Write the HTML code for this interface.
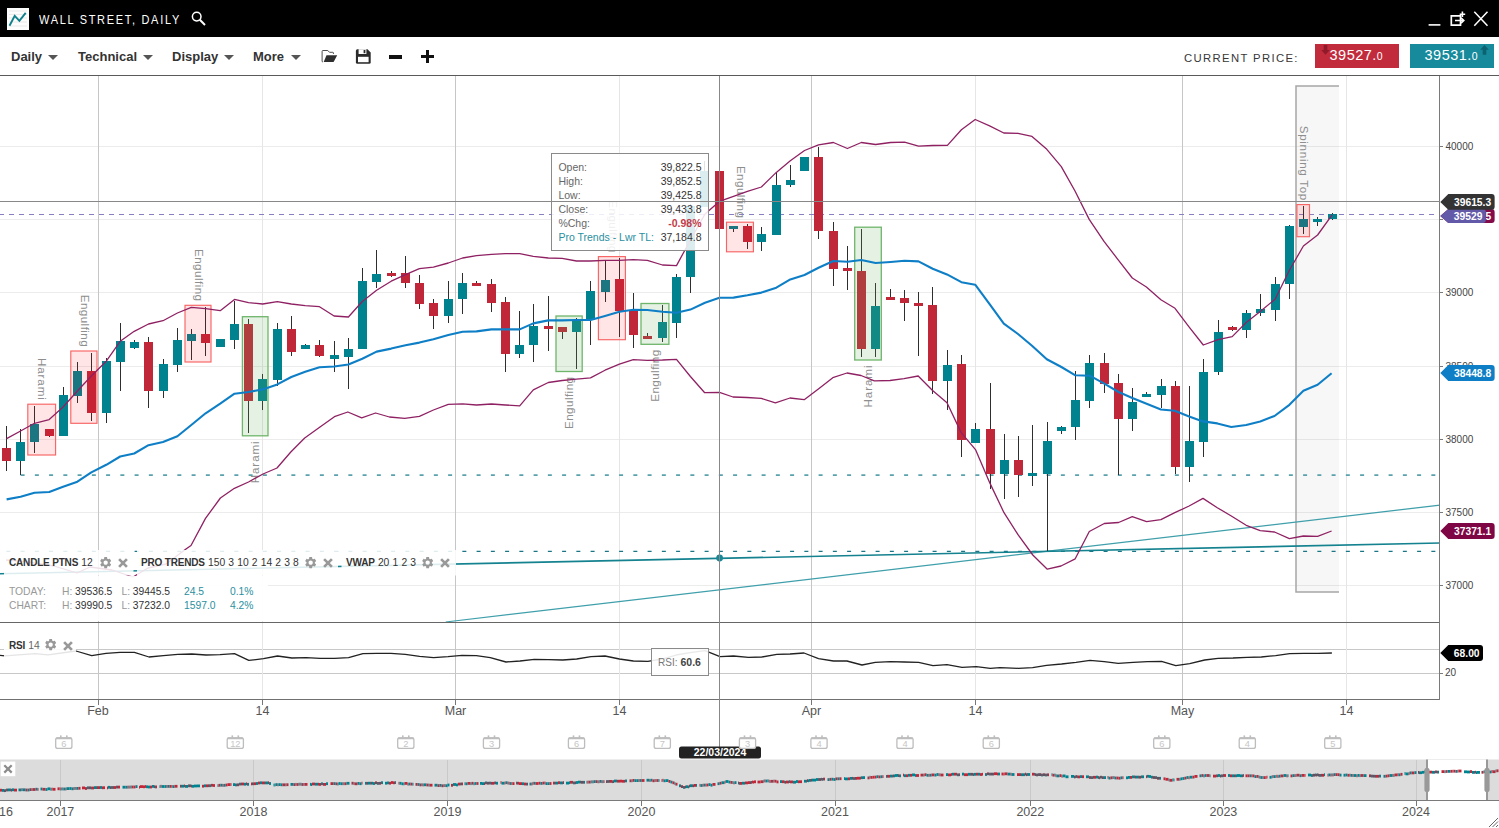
<!DOCTYPE html>
<html><head><meta charset="utf-8"><title>Wall Street, Daily</title>
<style>
html,body{margin:0;padding:0}
body{width:1499px;height:828px;overflow:hidden;background:#fff;position:relative;font-family:"Liberation Sans",sans-serif;color:#333}
.hdr{position:absolute;left:0;top:0;width:1499px;height:37px;background:#000}
.logo{position:absolute;left:7px;top:8px;width:22px;height:22px;background:#fdfdfd}
.title{position:absolute;left:39px;top:12px;font-size:12.2px;letter-spacing:1.9px;transform:scaleX(0.9);transform-origin:0 0;color:#fff;line-height:16px;white-space:nowrap}
.tb{position:absolute;left:0;top:37px;width:1499px;height:38px;background:#fff;border-bottom:1.5px solid #5a5a5a;box-sizing:content-box}
.mi{position:absolute;top:11.5px;font-size:13px;font-weight:bold;color:#333;line-height:16px;white-space:nowrap;letter-spacing:0}
.ar{position:absolute;top:18px;width:0;height:0;border-left:5px solid transparent;border-right:5px solid transparent;border-top:5.200px solid #555}
.cp{position:absolute;left:1184px;top:12.5px;font-size:11.3px;letter-spacing:1.36px;color:#383838;line-height:16px;white-space:nowrap}
.btn{position:absolute;top:7px;height:24px;width:84px;color:#fff;font-size:14.5px;line-height:23px;letter-spacing:0.5px;white-space:nowrap}
.btn small{font-size:10.5px}
.lg{position:absolute;top:556px;height:14px;line-height:14px;font-size:10.3px;color:#333;white-space:nowrap;word-spacing:0.3px}
.lg b{font-size:10px;letter-spacing:-0.18px;word-spacing:0}
.ic{position:absolute}
.inf{position:absolute;font-size:10.3px;line-height:12px;white-space:nowrap}
.g{color:#999} .d{color:#333} .t{color:#2a8fa0}
</style></head><body>
<svg width="1499" height="828" viewBox="0 0 1499 828" style="position:absolute;left:0;top:0" font-family="Liberation Sans, sans-serif">
<g shape-rendering="crispEdges">
<rect x="0" y="146" width="1439" height="1" fill="#ececec"/>
<rect x="0" y="219" width="1439" height="1" fill="#ececec"/>
<rect x="0" y="292" width="1439" height="1" fill="#ececec"/>
<rect x="0" y="366" width="1439" height="1" fill="#ececec"/>
<rect x="0" y="439" width="1439" height="1" fill="#ececec"/>
<rect x="0" y="512" width="1439" height="1" fill="#ececec"/>
<rect x="0" y="585" width="1439" height="1" fill="#ececec"/>
<rect x="0" y="649" width="1440" height="1" fill="#c8c8c8"/>
<rect x="0" y="673" width="1440" height="1" fill="#c8c8c8"/>
<rect x="98" y="76" width="1" height="623" fill="#c6c6c6"/>
<rect x="262" y="76" width="1" height="623" fill="#e6e6e6"/>
<rect x="455" y="76" width="1" height="623" fill="#c6c6c6"/>
<rect x="619" y="76" width="1" height="623" fill="#e6e6e6"/>
<rect x="811" y="76" width="1" height="623" fill="#c6c6c6"/>
<rect x="975" y="76" width="1" height="623" fill="#e6e6e6"/>
<rect x="1182" y="76" width="1" height="623" fill="#c6c6c6"/>
<rect x="1346" y="76" width="1" height="623" fill="#e6e6e6"/>
</g>
<rect x="1296" y="86" width="43" height="506" fill="rgba(0,0,0,0.032)"/>
<path d="M1339,86 H1296 V592 H1339" fill="none" stroke="#a6a6a6" stroke-width="1.5"/>
<text transform="translate(38.300000000000004,399.9) rotate(90)" text-anchor="end" font-size="11.6" fill="#8e8e8e" textLength="42" lengthAdjust="spacing">Harami</text>
<text transform="translate(80.5,346.7) rotate(90)" text-anchor="end" font-size="11.6" fill="#8e8e8e" textLength="52" lengthAdjust="spacing">Engulfing</text>
<text transform="translate(194.6,301.0) rotate(90)" text-anchor="end" font-size="11.6" fill="#8e8e8e" textLength="52" lengthAdjust="spacing">Engulfing</text>
<text transform="translate(608.5,252.3) rotate(90)" text-anchor="end" font-size="11.6" fill="#8e8e8e" textLength="52" lengthAdjust="spacing">Engulfing</text>
<text transform="translate(736.5500000000001,217.89999999999998) rotate(90)" text-anchor="end" font-size="11.6" fill="#8e8e8e" textLength="52" lengthAdjust="spacing">Engulfing</text>
<text transform="translate(1299.8,200.29999999999998) rotate(90)" text-anchor="end" font-size="11.6" fill="#8e8e8e" textLength="74.6" lengthAdjust="spacing">Spinning Top</text>
<text transform="translate(258.8,441.3) rotate(-90)" text-anchor="end" font-size="11.6" fill="#8e8e8e" textLength="42" lengthAdjust="spacing">Harami</text>
<text transform="translate(572.7,377.0) rotate(-90)" text-anchor="end" font-size="11.6" fill="#8e8e8e" textLength="52" lengthAdjust="spacing">Engulfing</text>
<text transform="translate(658.5500000000001,349.8) rotate(-90)" text-anchor="end" font-size="11.6" fill="#8e8e8e" textLength="52" lengthAdjust="spacing">Engulfing</text>
<text transform="translate(871.6,365.5) rotate(-90)" text-anchor="end" font-size="11.6" fill="#8e8e8e" textLength="42" lengthAdjust="spacing">Harami</text>
<line x1="20.6" y1="475.2" x2="1438" y2="475.2" stroke="#5aa1ab" stroke-width="1.7" stroke-dasharray="4 10.25"/>
<line x1="-7.9" y1="551.4" x2="1438" y2="551.4" stroke="#1a7684" stroke-width="1.25" stroke-dasharray="4 10.25"/>
<line x1="-1" y1="214.5" x2="1436" y2="214.5" stroke="#8680c3" stroke-width="1" stroke-dasharray="5 5" shape-rendering="crispEdges"/>
<line x1="445.7" y1="622" x2="1440" y2="505.1" stroke="#3f9fab" stroke-width="1.25"/>
<line x1="0" y1="573.7" x2="1440" y2="543" stroke="#14828f" stroke-width="1.6"/>
<circle cx="719.6" cy="558" r="3.4" fill="#1a8797"/>
<g shape-rendering="crispEdges">
<rect x="6" y="426" width="1" height="45" fill="#2e2e2e"/>
<rect x="2" y="448" width="9" height="13" fill="#c0283a"/>
<rect x="20" y="429" width="1" height="46" fill="#2e2e2e"/>
<rect x="16" y="442" width="9" height="19" fill="#00838f"/>
<rect x="34" y="406" width="1" height="47" fill="#2e2e2e"/>
<rect x="30" y="424" width="9" height="18" fill="#00838f"/>
<rect x="49" y="429" width="1" height="8" fill="#2e2e2e"/>
<rect x="45" y="429" width="9" height="7" fill="#c0283a"/>
<rect x="63" y="387" width="1" height="49" fill="#2e2e2e"/>
<rect x="59" y="395" width="9" height="41" fill="#00838f"/>
<rect x="77" y="362" width="1" height="41" fill="#2e2e2e"/>
<rect x="73" y="371" width="9" height="25" fill="#00838f"/>
<rect x="91" y="353" width="1" height="68" fill="#2e2e2e"/>
<rect x="87" y="371" width="9" height="42" fill="#c0283a"/>
<rect x="106" y="358" width="1" height="65" fill="#2e2e2e"/>
<rect x="102" y="361" width="9" height="52" fill="#00838f"/>
<rect x="120" y="323" width="1" height="68" fill="#2e2e2e"/>
<rect x="116" y="341" width="9" height="21" fill="#00838f"/>
<rect x="134" y="340" width="1" height="9" fill="#2e2e2e"/>
<rect x="130" y="342" width="9" height="6" fill="#00838f"/>
<rect x="148" y="337" width="1" height="71" fill="#2e2e2e"/>
<rect x="144" y="342" width="9" height="49" fill="#c0283a"/>
<rect x="163" y="359" width="1" height="39" fill="#2e2e2e"/>
<rect x="159" y="364" width="9" height="27" fill="#00838f"/>
<rect x="177" y="328" width="1" height="44" fill="#2e2e2e"/>
<rect x="173" y="340" width="9" height="25" fill="#00838f"/>
<rect x="191" y="329" width="1" height="31" fill="#2e2e2e"/>
<rect x="187" y="334" width="9" height="7" fill="#00838f"/>
<rect x="205" y="307" width="1" height="49" fill="#2e2e2e"/>
<rect x="201" y="334" width="9" height="9" fill="#c0283a"/>
<rect x="220" y="339" width="1" height="8" fill="#2e2e2e"/>
<rect x="216" y="339" width="9" height="8" fill="#00838f"/>
<rect x="234" y="301" width="1" height="48" fill="#2e2e2e"/>
<rect x="230" y="324" width="9" height="16" fill="#00838f"/>
<rect x="248" y="319" width="1" height="114" fill="#2e2e2e"/>
<rect x="244" y="324" width="9" height="77" fill="#c0283a"/>
<rect x="262" y="374" width="1" height="36" fill="#2e2e2e"/>
<rect x="258" y="379" width="9" height="22" fill="#00838f"/>
<rect x="277" y="323" width="1" height="63" fill="#2e2e2e"/>
<rect x="273" y="329" width="9" height="51" fill="#00838f"/>
<rect x="291" y="316" width="1" height="40" fill="#2e2e2e"/>
<rect x="287" y="329" width="9" height="23" fill="#c0283a"/>
<rect x="305" y="344" width="1" height="5" fill="#2e2e2e"/>
<rect x="301" y="345" width="9" height="4" fill="#00838f"/>
<rect x="319" y="340" width="1" height="17" fill="#2e2e2e"/>
<rect x="315" y="345" width="9" height="11" fill="#c0283a"/>
<rect x="334" y="341" width="1" height="31" fill="#2e2e2e"/>
<rect x="330" y="355" width="9" height="4" fill="#00838f"/>
<rect x="348" y="338" width="1" height="51" fill="#2e2e2e"/>
<rect x="344" y="349" width="9" height="8" fill="#00838f"/>
<rect x="362" y="268" width="1" height="81" fill="#2e2e2e"/>
<rect x="358" y="281" width="9" height="68" fill="#00838f"/>
<rect x="376" y="250" width="1" height="38" fill="#2e2e2e"/>
<rect x="372" y="274" width="9" height="8" fill="#00838f"/>
<rect x="391" y="271" width="1" height="6" fill="#2e2e2e"/>
<rect x="387" y="273" width="9" height="3" fill="#c0283a"/>
<rect x="405" y="256" width="1" height="32" fill="#2e2e2e"/>
<rect x="401" y="273" width="9" height="10" fill="#c0283a"/>
<rect x="419" y="275" width="1" height="34" fill="#2e2e2e"/>
<rect x="415" y="283" width="9" height="21" fill="#c0283a"/>
<rect x="433" y="299" width="1" height="30" fill="#2e2e2e"/>
<rect x="429" y="303" width="9" height="13" fill="#c0283a"/>
<rect x="448" y="281" width="1" height="42" fill="#2e2e2e"/>
<rect x="444" y="299" width="9" height="17" fill="#00838f"/>
<rect x="462" y="273" width="1" height="41" fill="#2e2e2e"/>
<rect x="458" y="283" width="9" height="16" fill="#00838f"/>
<rect x="476" y="281" width="1" height="5" fill="#2e2e2e"/>
<rect x="472" y="283" width="9" height="3" fill="#c0283a"/>
<rect x="491" y="279" width="1" height="33" fill="#2e2e2e"/>
<rect x="487" y="284" width="9" height="19" fill="#c0283a"/>
<rect x="505" y="297" width="1" height="75" fill="#2e2e2e"/>
<rect x="501" y="302" width="9" height="52" fill="#c0283a"/>
<rect x="519" y="311" width="1" height="47" fill="#2e2e2e"/>
<rect x="515" y="345" width="9" height="9" fill="#00838f"/>
<rect x="533" y="304" width="1" height="58" fill="#2e2e2e"/>
<rect x="529" y="326" width="9" height="19" fill="#00838f"/>
<rect x="548" y="296" width="1" height="55" fill="#2e2e2e"/>
<rect x="544" y="326" width="9" height="3" fill="#c0283a"/>
<rect x="562" y="327" width="1" height="12" fill="#2e2e2e"/>
<rect x="558" y="327" width="9" height="5" fill="#c0283a"/>
<rect x="576" y="318" width="1" height="51" fill="#2e2e2e"/>
<rect x="572" y="320" width="9" height="12" fill="#00838f"/>
<rect x="590" y="281" width="1" height="64" fill="#2e2e2e"/>
<rect x="586" y="291" width="9" height="29" fill="#00838f"/>
<rect x="605" y="261" width="1" height="41" fill="#2e2e2e"/>
<rect x="601" y="280" width="9" height="12" fill="#00838f"/>
<rect x="619" y="258" width="1" height="79" fill="#2e2e2e"/>
<rect x="615" y="279" width="9" height="32" fill="#c0283a"/>
<rect x="633" y="293" width="1" height="55" fill="#2e2e2e"/>
<rect x="629" y="311" width="9" height="24" fill="#c0283a"/>
<rect x="647" y="333" width="1" height="6" fill="#2e2e2e"/>
<rect x="643" y="336" width="9" height="3" fill="#c0283a"/>
<rect x="662" y="305" width="1" height="37" fill="#2e2e2e"/>
<rect x="658" y="322" width="9" height="16" fill="#00838f"/>
<rect x="676" y="274" width="1" height="64" fill="#2e2e2e"/>
<rect x="672" y="277" width="9" height="46" fill="#00838f"/>
<rect x="690" y="204" width="1" height="89" fill="#2e2e2e"/>
<rect x="686" y="206" width="9" height="71" fill="#00838f"/>
<rect x="704" y="161" width="1" height="46" fill="#2e2e2e"/>
<rect x="700" y="171" width="9" height="36" fill="#00838f"/>
<rect x="719" y="167" width="1" height="63" fill="#2e2e2e"/>
<rect x="715" y="171" width="9" height="58" fill="#c0283a"/>
<rect x="733" y="226" width="1" height="6" fill="#2e2e2e"/>
<rect x="729" y="226" width="9" height="3" fill="#00838f"/>
<rect x="747" y="224" width="1" height="25" fill="#2e2e2e"/>
<rect x="743" y="226" width="9" height="16" fill="#c0283a"/>
<rect x="761" y="227" width="1" height="24" fill="#2e2e2e"/>
<rect x="757" y="234" width="9" height="8" fill="#00838f"/>
<rect x="776" y="172" width="1" height="63" fill="#2e2e2e"/>
<rect x="772" y="185" width="9" height="50" fill="#00838f"/>
<rect x="790" y="165" width="1" height="22" fill="#2e2e2e"/>
<rect x="786" y="180" width="9" height="5" fill="#00838f"/>
<rect x="804" y="157" width="1" height="14" fill="#2e2e2e"/>
<rect x="800" y="157" width="9" height="14" fill="#00838f"/>
<rect x="818" y="147" width="1" height="92" fill="#2e2e2e"/>
<rect x="814" y="157" width="9" height="74" fill="#c0283a"/>
<rect x="833" y="222" width="1" height="64" fill="#2e2e2e"/>
<rect x="829" y="231" width="9" height="38" fill="#c0283a"/>
<rect x="847" y="246" width="1" height="44" fill="#2e2e2e"/>
<rect x="843" y="268" width="9" height="3" fill="#c0283a"/>
<rect x="861" y="229" width="1" height="128" fill="#2e2e2e"/>
<rect x="857" y="271" width="9" height="78" fill="#c0283a"/>
<rect x="875" y="283" width="1" height="74" fill="#2e2e2e"/>
<rect x="871" y="306" width="9" height="43" fill="#00838f"/>
<rect x="890" y="289" width="1" height="11" fill="#2e2e2e"/>
<rect x="886" y="297" width="9" height="3" fill="#c0283a"/>
<rect x="904" y="290" width="1" height="31" fill="#2e2e2e"/>
<rect x="900" y="298" width="9" height="5" fill="#c0283a"/>
<rect x="918" y="292" width="1" height="64" fill="#2e2e2e"/>
<rect x="914" y="303" width="9" height="3" fill="#c0283a"/>
<rect x="932" y="287" width="1" height="107" fill="#2e2e2e"/>
<rect x="928" y="305" width="9" height="76" fill="#c0283a"/>
<rect x="947" y="350" width="1" height="60" fill="#2e2e2e"/>
<rect x="943" y="365" width="9" height="16" fill="#00838f"/>
<rect x="961" y="355" width="1" height="102" fill="#2e2e2e"/>
<rect x="957" y="364" width="9" height="76" fill="#c0283a"/>
<rect x="975" y="423" width="1" height="20" fill="#2e2e2e"/>
<rect x="971" y="429" width="9" height="14" fill="#00838f"/>
<rect x="990" y="383" width="1" height="106" fill="#2e2e2e"/>
<rect x="986" y="429" width="9" height="45" fill="#c0283a"/>
<rect x="1004" y="434" width="1" height="65" fill="#2e2e2e"/>
<rect x="1000" y="460" width="9" height="14" fill="#00838f"/>
<rect x="1018" y="436" width="1" height="61" fill="#2e2e2e"/>
<rect x="1014" y="460" width="9" height="15" fill="#c0283a"/>
<rect x="1032" y="425" width="1" height="61" fill="#2e2e2e"/>
<rect x="1028" y="473" width="9" height="3" fill="#00838f"/>
<rect x="1047" y="422" width="1" height="129" fill="#2e2e2e"/>
<rect x="1043" y="441" width="9" height="33" fill="#00838f"/>
<rect x="1061" y="426" width="1" height="8" fill="#2e2e2e"/>
<rect x="1057" y="427" width="9" height="4" fill="#00838f"/>
<rect x="1075" y="371" width="1" height="69" fill="#2e2e2e"/>
<rect x="1071" y="400" width="9" height="27" fill="#00838f"/>
<rect x="1089" y="355" width="1" height="53" fill="#2e2e2e"/>
<rect x="1085" y="363" width="9" height="38" fill="#00838f"/>
<rect x="1104" y="353" width="1" height="40" fill="#2e2e2e"/>
<rect x="1100" y="363" width="9" height="21" fill="#c0283a"/>
<rect x="1118" y="374" width="1" height="101" fill="#2e2e2e"/>
<rect x="1114" y="383" width="9" height="36" fill="#c0283a"/>
<rect x="1132" y="388" width="1" height="43" fill="#2e2e2e"/>
<rect x="1128" y="402" width="9" height="17" fill="#00838f"/>
<rect x="1146" y="392" width="1" height="5" fill="#2e2e2e"/>
<rect x="1142" y="394" width="9" height="3" fill="#00838f"/>
<rect x="1161" y="379" width="1" height="29" fill="#2e2e2e"/>
<rect x="1157" y="386" width="9" height="9" fill="#00838f"/>
<rect x="1175" y="381" width="1" height="93" fill="#2e2e2e"/>
<rect x="1171" y="386" width="9" height="81" fill="#c0283a"/>
<rect x="1189" y="386" width="1" height="96" fill="#2e2e2e"/>
<rect x="1185" y="441" width="9" height="26" fill="#00838f"/>
<rect x="1203" y="359" width="1" height="98" fill="#2e2e2e"/>
<rect x="1199" y="372" width="9" height="70" fill="#00838f"/>
<rect x="1218" y="320" width="1" height="55" fill="#2e2e2e"/>
<rect x="1214" y="332" width="9" height="40" fill="#00838f"/>
<rect x="1232" y="326" width="1" height="5" fill="#2e2e2e"/>
<rect x="1228" y="327" width="9" height="3" fill="#c0283a"/>
<rect x="1246" y="310" width="1" height="28" fill="#2e2e2e"/>
<rect x="1242" y="313" width="9" height="17" fill="#00838f"/>
<rect x="1260" y="294" width="1" height="22" fill="#2e2e2e"/>
<rect x="1256" y="309" width="9" height="4" fill="#00838f"/>
<rect x="1275" y="277" width="1" height="44" fill="#2e2e2e"/>
<rect x="1271" y="284" width="9" height="26" fill="#00838f"/>
<rect x="1289" y="225" width="1" height="74" fill="#2e2e2e"/>
<rect x="1285" y="226" width="9" height="58" fill="#00838f"/>
<rect x="1303" y="206" width="1" height="28" fill="#2e2e2e"/>
<rect x="1299" y="219" width="9" height="8" fill="#00838f"/>
<rect x="1317" y="217" width="1" height="9" fill="#2e2e2e"/>
<rect x="1313" y="219" width="9" height="3" fill="#00838f"/>
<rect x="1332" y="213" width="1" height="7" fill="#2e2e2e"/>
<rect x="1328" y="214" width="9" height="5" fill="#00838f"/>
</g>
<rect x="27.8" y="404.2" width="27.8" height="50.8" fill="rgba(255,20,20,0.11)" stroke="#f86464" stroke-width="1.15"/>
<rect x="70.8" y="351" width="26.2" height="72.3" fill="rgba(255,20,20,0.11)" stroke="#f86464" stroke-width="1.15"/>
<rect x="185" y="305.3" width="26.0" height="56.7" fill="rgba(255,20,20,0.11)" stroke="#f86464" stroke-width="1.15"/>
<rect x="598.4" y="256.6" width="27.0" height="83.1" fill="rgba(255,20,20,0.11)" stroke="#f86464" stroke-width="1.15"/>
<rect x="726.5" y="222.2" width="26.9" height="29.6" fill="rgba(255,20,20,0.11)" stroke="#f86464" stroke-width="1.15"/>
<rect x="1296.9" y="204.6" width="12.6" height="32.1" fill="rgba(255,20,20,0.11)" stroke="#f86464" stroke-width="1.15"/>
<rect x="242.4" y="316.7" width="25.6" height="119.1" fill="rgba(100,170,90,0.17)" stroke="#6fb56b" stroke-width="1.3"/>
<rect x="556" y="316" width="26.2" height="55.5" fill="rgba(100,170,90,0.17)" stroke="#6fb56b" stroke-width="1.3"/>
<rect x="641" y="303.5" width="27.9" height="40.8" fill="rgba(100,170,90,0.17)" stroke="#6fb56b" stroke-width="1.3"/>
<rect x="854.7" y="227.2" width="26.6" height="132.8" fill="rgba(100,170,90,0.17)" stroke="#6fb56b" stroke-width="1.3"/>
<polyline points="6.6,499.4 20.6,496.7 34.5,492.7 49.2,492.0 63.1,486.7 77.4,481.7 91.3,472.4 106.3,464.8 120.2,456.5 134.2,453.5 148.5,445.2 163.0,441.9 177.4,436.2 191.3,425.0 205.6,413.3 220.2,403.7 234.5,393.7 248.5,392.0 262.7,389.4 277.3,384.4 291.3,377.0 305.2,371.8 319.5,367.2 334.1,366.5 348.4,364.5 362.3,358.8 376.6,351.6 391.2,348.6 405.5,345.3 419.4,342.6 433.4,339.3 448.3,335.0 462.6,331.7 476.5,331.4 491.5,329.4 505.4,329.4 519.7,329.4 533.3,323.4 548.3,320.4 562.2,320.4 576.5,320.0 590.5,320.0 605.0,316.0 619.4,311.8 633.3,309.8 647.3,310.0 662.5,311.8 676.5,312.8 690.4,309.6 705.0,302.7 719.4,297.7 733.5,297.6 747.4,295.3 761.4,292.6 776.3,287.7 790.3,279.4 804.5,275.0 818.5,267.7 833.4,261.0 847.4,261.8 861.3,260.0 875.6,263.0 890.6,262.0 904.5,260.8 918.5,261.4 932.7,268.7 947.0,274.4 961.4,282.2 975.2,284.7 989.6,304.2 1003.8,323.7 1018.0,334.0 1032.0,345.7 1046.8,359.2 1061.4,367.0 1075.4,375.3 1089.7,375.7 1104.3,383.6 1118.6,392.0 1132.3,398.0 1146.6,403.8 1160.9,409.5 1174.8,410.7 1189.1,416.4 1203.0,421.4 1217.3,423.4 1231.3,427.0 1246.2,425.0 1260.2,421.4 1274.5,416.0 1289.4,404.8 1303.4,390.8 1317.6,384.8 1331.6,373.2" fill="none" stroke="#0e7fc6" stroke-width="2.1" stroke-linejoin="round"/>
<polyline points="6.6,438.6 20.6,431.0 34.5,423.3 49.2,419.6 63.1,407.0 77.4,391.0 91.3,376.0 106.3,361.2 120.2,341.3 134.2,331.3 148.5,324.0 163.0,320.7 177.4,313.0 191.3,307.4 205.6,308.7 220.2,310.7 234.5,299.4 248.5,302.7 262.7,304.0 277.3,301.7 291.3,304.0 305.2,305.7 319.5,306.7 334.1,316.0 348.4,317.0 362.3,301.5 376.6,290.2 391.2,281.2 405.5,274.6 419.4,268.6 433.4,267.2 448.3,263.0 462.6,258.0 476.5,255.6 491.5,254.3 505.4,253.6 519.7,253.6 533.3,256.3 548.3,258.0 562.2,258.3 576.5,261.0 590.5,261.0 605.0,260.3 619.4,260.3 633.3,259.6 647.3,260.3 662.5,265.0 676.5,265.6 690.4,240.0 705.0,214.0 719.4,201.4 733.5,196.3 747.4,191.3 761.4,187.0 776.3,172.4 790.3,160.8 804.5,150.5 818.5,144.8 833.4,142.5 847.4,148.5 861.3,142.5 875.6,144.5 890.6,142.5 904.5,142.2 918.5,146.2 932.7,145.5 947.4,145.4 961.4,129.8 975.2,119.5 989.6,125.8 1003.8,133.0 1018.0,133.3 1032.0,136.4 1046.8,149.3 1061.3,166.6 1075.0,191.0 1089.2,219.4 1104.0,241.4 1118.0,259.6 1132.3,278.0 1146.4,287.0 1160.9,299.8 1175.0,308.3 1189.0,326.8 1203.3,345.0 1218.0,339.7 1232.2,336.6 1246.2,322.5 1260.2,311.5 1275.1,299.2 1289.4,270.3 1303.4,246.0 1317.6,235.0 1332.3,214.7" fill="none" stroke="#8f2163" stroke-width="1.3" stroke-linejoin="round"/>
<polyline points="6.0,560.0 26.0,561.6 54.0,566.0 77.0,573.0 90.0,567.0 112.0,570.0 133.0,577.0 148.0,568.0 166.0,564.0 186.0,549.0 191.0,545.5 205.5,518.4 220.4,498.0 234.4,488.3 248.5,482.0 263.0,474.0 277.0,468.0 290.8,452.0 304.7,438.0 320.0,427.0 334.4,416.7 347.8,412.0 361.7,417.8 375.6,413.0 389.4,417.0 404.7,418.3 419.4,416.4 433.4,410.0 448.3,404.4 462.6,403.8 476.5,405.0 491.5,404.0 505.4,405.0 519.7,405.8 533.3,389.8 548.3,382.5 562.2,380.5 576.5,379.2 590.5,377.9 605.0,370.2 619.4,364.2 633.3,359.6 647.3,360.3 662.5,360.0 676.5,359.3 690.4,376.5 704.7,392.7 719.5,392.4 733.0,397.0 747.0,397.5 761.2,398.4 775.4,402.8 790.0,398.0 804.2,399.7 818.7,388.7 832.8,377.7 847.0,373.0 861.0,375.5 874.3,380.8 890.0,380.5 904.0,378.6 918.2,376.0 932.3,390.2 947.0,402.8 961.2,432.6 975.7,449.9 989.8,482.9 1004.0,512.7 1018.0,534.7 1032.8,555.0 1047.3,569.2 1061.0,566.0 1075.2,558.8 1089.3,531.5 1104.3,523.5 1118.6,522.5 1132.3,516.7 1146.6,521.7 1160.9,519.7 1174.8,512.7 1189.1,506.0 1203.0,498.4 1217.3,507.7 1231.3,516.0 1246.2,525.3 1260.2,530.6 1274.5,532.0 1289.4,538.6 1303.4,536.0 1317.6,536.3 1331.6,531.0" fill="none" stroke="#8f2163" stroke-width="1.3" stroke-linejoin="round"/>
<polyline points="0.0,655.4 5.0,655.9 35.0,653.6 48.0,654.9 76.0,651.0 91.7,655.7 106.0,653.4 120.0,652.4 134.4,652.4 149.0,657.0 163.4,655.7 177.8,654.4 191.8,654.0 206.0,655.0 220.0,654.7 234.5,653.7 248.8,660.4 263.5,658.7 277.5,656.0 291.9,658.0 306.2,657.7 320.2,658.4 334.6,658.4 348.6,657.7 362.9,653.7 377.0,653.4 391.0,653.4 405.3,654.4 419.6,656.4 433.6,657.7 448.0,656.7 462.0,655.4 476.3,655.7 490.3,657.7 506.0,662.0 520.0,661.0 534.4,659.4 548.4,659.7 562.7,660.0 576.7,659.0 591.0,656.7 605.0,656.0 619.4,659.0 633.4,661.0 647.8,661.4 662.0,659.0 676.0,655.0 690.0,652.7 705.0,650.7 720.0,656.7 733.5,656.0 748.5,657.4 761.8,657.0 776.8,654.4 790.0,654.0 804.0,653.0 818.5,658.7 833.5,661.0 846.9,661.0 862.0,665.0 875.3,662.4 890.3,661.7 904.3,662.0 918.6,662.4 933.0,665.7 947.0,664.7 962.0,667.4 976.3,666.7 990.3,668.4 1000.0,667.7 1018.3,668.3 1032.6,667.6 1046.6,665.3 1061.6,664.0 1076.0,662.3 1090.0,660.3 1104.2,661.6 1118.2,663.3 1133.2,662.3 1147.5,661.6 1161.5,661.3 1175.8,665.6 1189.7,663.6 1204.7,660.0 1218.0,658.3 1233.0,658.0 1247.0,657.3 1261.3,657.0 1275.6,655.6 1289.6,653.6 1304.0,653.3 1318.0,653.3 1331.9,653.0" fill="none" stroke="#222" stroke-width="1.3" stroke-linejoin="round"/>
<g shape-rendering="crispEdges">
<rect x="0" y="622" width="1440" height="1" fill="#666"/>
<rect x="0" y="699" width="1440" height="1" fill="#707070"/>
<rect x="1439" y="76" width="1" height="624" fill="#7a7a7a"/>
<rect x="1440" y="146" width="3" height="1" fill="#7a7a7a"/>
<rect x="1440" y="219" width="3" height="1" fill="#7a7a7a"/>
<rect x="1440" y="292" width="3" height="1" fill="#7a7a7a"/>
<rect x="1440" y="366" width="3" height="1" fill="#7a7a7a"/>
<rect x="1440" y="439" width="3" height="1" fill="#7a7a7a"/>
<rect x="1440" y="512" width="3" height="1" fill="#7a7a7a"/>
<rect x="1440" y="585" width="3" height="1" fill="#7a7a7a"/>
<rect x="1440" y="673" width="3" height="1" fill="#7a7a7a"/>
</g>
<rect x="98" y="700" width="1" height="5" fill="#777" shape-rendering="crispEdges"/>
<rect x="262" y="700" width="1" height="5" fill="#777" shape-rendering="crispEdges"/>
<rect x="455" y="700" width="1" height="5" fill="#777" shape-rendering="crispEdges"/>
<rect x="619" y="700" width="1" height="5" fill="#777" shape-rendering="crispEdges"/>
<rect x="811" y="700" width="1" height="5" fill="#777" shape-rendering="crispEdges"/>
<rect x="975" y="700" width="1" height="5" fill="#777" shape-rendering="crispEdges"/>
<rect x="1182" y="700" width="1" height="5" fill="#777" shape-rendering="crispEdges"/>
<rect x="1346" y="700" width="1" height="5" fill="#777" shape-rendering="crispEdges"/>
<text x="1445.5" y="149.6" font-size="10" fill="#444">40000</text>
<text x="1445.5" y="295.6" font-size="10" fill="#444">39000</text>
<text x="1445.5" y="369.6" font-size="10" fill="#444">38500</text>
<text x="1445.5" y="442.6" font-size="10" fill="#444">38000</text>
<text x="1445.5" y="515.6" font-size="10" fill="#444">37500</text>
<text x="1445.5" y="588.6" font-size="10" fill="#444">37000</text>
<text x="1445" y="676.4" font-size="10" fill="#444">20</text>
<text x="98" y="715.3" font-size="12.5" fill="#555" text-anchor="middle">Feb</text>
<text x="262.5" y="715.3" font-size="12.5" fill="#555" text-anchor="middle">14</text>
<text x="455.5" y="715.3" font-size="12.5" fill="#555" text-anchor="middle">Mar</text>
<text x="619.5" y="715.3" font-size="12.5" fill="#555" text-anchor="middle">14</text>
<text x="811.5" y="715.3" font-size="12.5" fill="#555" text-anchor="middle">Apr</text>
<text x="975.5" y="715.3" font-size="12.5" fill="#555" text-anchor="middle">14</text>
<text x="1182.5" y="715.3" font-size="12.5" fill="#555" text-anchor="middle">May</text>
<text x="1346.5" y="715.3" font-size="12.5" fill="#555" text-anchor="middle">14</text>
<rect x="4" y="550" width="129.5" height="25.5" fill="rgba(255,255,255,0.86)"/>
<rect x="137" y="550" width="201" height="25.5" fill="rgba(255,255,255,0.86)"/>
<rect x="341.5" y="550" width="114.5" height="25.5" fill="rgba(255,255,255,0.86)"/>
<rect x="0" y="550" width="4" height="25.5" fill="rgba(255,255,255,0.0)"/>
<rect x="0" y="576" width="268" height="45" fill="rgba(255,255,255,0.93)"/>
<rect x="4" y="636" width="72" height="22" fill="rgba(255,255,255,0.88)"/>
<rect x="551.5" y="153.5" width="157" height="97" fill="rgba(255,255,255,0.86)" stroke="#8a8a8a" stroke-width="1"/>
<text x="558.4" y="171.3" font-size="10.5" fill="#666">Open:</text>
<text x="701.5" y="171.3" font-size="10.5" fill="#333" text-anchor="end">39,822.5</text>
<text x="558.4" y="185.2" font-size="10.5" fill="#666">High:</text>
<text x="701.5" y="185.2" font-size="10.5" fill="#333" text-anchor="end">39,852.5</text>
<text x="558.4" y="199.2" font-size="10.5" fill="#666">Low:</text>
<text x="701.5" y="199.2" font-size="10.5" fill="#333" text-anchor="end">39,425.8</text>
<text x="558.4" y="213.2" font-size="10.5" fill="#666">Close:</text>
<text x="701.5" y="213.2" font-size="10.5" fill="#333" text-anchor="end">39,433.8</text>
<text x="558.4" y="227.1" font-size="10.5" fill="#666">%Chg:</text>
<text x="701.5" y="227.1" font-size="10.5" fill="#c43a48" text-anchor="end" font-weight="bold">-0.98%</text>
<text x="558.4" y="241.1" font-size="10.5" fill="#2a8fa0">Pro Trends - Lwr TL:</text>
<text x="701.5" y="241.1" font-size="10.5" fill="#333" text-anchor="end">37,184.8</text>
<rect x="651.5" y="648.5" width="57" height="27" fill="rgba(255,255,255,0.9)" stroke="#8a8a8a" stroke-width="1"/>
<text x="658" y="665.8" font-size="10" fill="#777">RSI:</text><text x="680.5" y="665.8" font-size="10.5" fill="#444" font-weight="bold">60.6</text>
<g shape-rendering="crispEdges"><rect x="0" y="201" width="1440" height="1" fill="#888"/><rect x="719" y="76" width="1" height="672" fill="#888"/></g>
<rect x="679" y="746.5" width="82" height="12" rx="2.5" fill="#222"/>
<text x="720" y="756.3" font-size="10.5" fill="#fff" text-anchor="middle" font-weight="bold">22/03/2024</text>
<path d="M1440.3,216 L1448.3,209.1 H1491.6 Q1494.6,209.1 1494.6,212.1 V219.9 Q1494.6,222.9 1491.6,222.9 H1448.3 Z" fill="#830b4a"/>
<text x="1491.1999999999998" y="219.9" font-size="10.3" font-weight="bold" fill="#fff" text-anchor="end">39529.5</text>
<path d="M1440.3,216 L1448.3,209.1 H1482.8 Q1485.8,209.1 1485.8,212.1 V219.9 Q1485.8,222.9 1482.8,222.9 H1448.3 Z" fill="#6259a9"/>
<text x="1482.3999999999999" y="219.9" font-size="10.3" font-weight="bold" fill="#fff" text-anchor="end">39529</text>
<path d="M1440.3,201.9 L1448.3,194.0 H1491.6 Q1494.6,194.0 1494.6,197.0 V206.8 Q1494.6,209.8 1491.6,209.8 H1448.3 Z" fill="#333"/>
<text x="1491.1999999999998" y="205.8" font-size="10.3" font-weight="bold" fill="#fff" text-anchor="end">39615.3</text>
<path d="M1440.3,373 L1448.3,365.0 H1491.6 Q1494.6,365.0 1494.6,368.0 V378.0 Q1494.6,381.0 1491.6,381.0 H1448.3 Z" fill="#0e7fc6"/>
<text x="1491.1999999999998" y="376.9" font-size="10.3" font-weight="bold" fill="#fff" text-anchor="end">38448.8</text>
<path d="M1440.3,530.9 L1448.3,522.9 H1491.6 Q1494.6,522.9 1494.6,525.9 V535.9 Q1494.6,538.9 1491.6,538.9 H1448.3 Z" fill="#7f0644"/>
<text x="1491.1999999999998" y="534.8" font-size="10.3" font-weight="bold" fill="#fff" text-anchor="end">37371.1</text>
<path d="M1440.3,653.1 L1448.3,645.1 H1480.0 Q1483.0,645.1 1483.0,648.1 V658.1 Q1483.0,661.1 1480.0,661.1 H1448.3 Z" fill="#000"/>
<text x="1479.6" y="657.0" font-size="10.3" font-weight="bold" fill="#fff" text-anchor="end">68.00</text>
<g><rect x="55.699999999999996" y="737.8" width="16.2" height="10.6" rx="2" fill="#fff" stroke="#bdbdbd" stroke-width="1.3"/><rect x="55.699999999999996" y="737.2" width="16.2" height="2" rx="1" fill="#bdbdbd"/><rect x="60.0" y="735.4" width="1.6" height="2.4" fill="#bdbdbd"/><rect x="66.0" y="735.4" width="1.6" height="2.4" fill="#bdbdbd"/><text x="63.8" y="747" font-size="9.3" fill="#c6c6c6" text-anchor="middle">6</text></g>
<g><rect x="227.20000000000002" y="737.8" width="16.2" height="10.6" rx="2" fill="#fff" stroke="#bdbdbd" stroke-width="1.3"/><rect x="227.20000000000002" y="737.2" width="16.2" height="2" rx="1" fill="#bdbdbd"/><rect x="231.5" y="735.4" width="1.6" height="2.4" fill="#bdbdbd"/><rect x="237.5" y="735.4" width="1.6" height="2.4" fill="#bdbdbd"/><text x="235.3" y="747" font-size="9.3" fill="#c6c6c6" text-anchor="middle">12</text></g>
<g><rect x="397.7" y="737.8" width="16.2" height="10.6" rx="2" fill="#fff" stroke="#bdbdbd" stroke-width="1.3"/><rect x="397.7" y="737.2" width="16.2" height="2" rx="1" fill="#bdbdbd"/><rect x="402.0" y="735.4" width="1.6" height="2.4" fill="#bdbdbd"/><rect x="408.0" y="735.4" width="1.6" height="2.4" fill="#bdbdbd"/><text x="405.8" y="747" font-size="9.3" fill="#c6c6c6" text-anchor="middle">2</text></g>
<g><rect x="483.4" y="737.8" width="16.2" height="10.6" rx="2" fill="#fff" stroke="#bdbdbd" stroke-width="1.3"/><rect x="483.4" y="737.2" width="16.2" height="2" rx="1" fill="#bdbdbd"/><rect x="487.7" y="735.4" width="1.6" height="2.4" fill="#bdbdbd"/><rect x="493.7" y="735.4" width="1.6" height="2.4" fill="#bdbdbd"/><text x="491.5" y="747" font-size="9.3" fill="#c6c6c6" text-anchor="middle">3</text></g>
<g><rect x="568.4" y="737.8" width="16.2" height="10.6" rx="2" fill="#fff" stroke="#bdbdbd" stroke-width="1.3"/><rect x="568.4" y="737.2" width="16.2" height="2" rx="1" fill="#bdbdbd"/><rect x="572.7" y="735.4" width="1.6" height="2.4" fill="#bdbdbd"/><rect x="578.7" y="735.4" width="1.6" height="2.4" fill="#bdbdbd"/><text x="576.5" y="747" font-size="9.3" fill="#c6c6c6" text-anchor="middle">6</text></g>
<g><rect x="654.1999999999999" y="737.8" width="16.2" height="10.6" rx="2" fill="#fff" stroke="#bdbdbd" stroke-width="1.3"/><rect x="654.1999999999999" y="737.2" width="16.2" height="2" rx="1" fill="#bdbdbd"/><rect x="658.5" y="735.4" width="1.6" height="2.4" fill="#bdbdbd"/><rect x="664.5" y="735.4" width="1.6" height="2.4" fill="#bdbdbd"/><text x="662.3" y="747" font-size="9.3" fill="#c6c6c6" text-anchor="middle">7</text></g>
<g><rect x="739.4" y="737.8" width="16.2" height="10.6" rx="2" fill="#fff" stroke="#bdbdbd" stroke-width="1.3"/><rect x="739.4" y="737.2" width="16.2" height="2" rx="1" fill="#bdbdbd"/><rect x="743.7" y="735.4" width="1.6" height="2.4" fill="#bdbdbd"/><rect x="749.7" y="735.4" width="1.6" height="2.4" fill="#bdbdbd"/><text x="747.5" y="747" font-size="9.3" fill="#c6c6c6" text-anchor="middle">3</text></g>
<g><rect x="810.9" y="737.8" width="16.2" height="10.6" rx="2" fill="#fff" stroke="#bdbdbd" stroke-width="1.3"/><rect x="810.9" y="737.2" width="16.2" height="2" rx="1" fill="#bdbdbd"/><rect x="815.2" y="735.4" width="1.6" height="2.4" fill="#bdbdbd"/><rect x="821.2" y="735.4" width="1.6" height="2.4" fill="#bdbdbd"/><text x="819" y="747" font-size="9.3" fill="#c6c6c6" text-anchor="middle">4</text></g>
<g><rect x="896.9" y="737.8" width="16.2" height="10.6" rx="2" fill="#fff" stroke="#bdbdbd" stroke-width="1.3"/><rect x="896.9" y="737.2" width="16.2" height="2" rx="1" fill="#bdbdbd"/><rect x="901.2" y="735.4" width="1.6" height="2.4" fill="#bdbdbd"/><rect x="907.2" y="735.4" width="1.6" height="2.4" fill="#bdbdbd"/><text x="905" y="747" font-size="9.3" fill="#c6c6c6" text-anchor="middle">4</text></g>
<g><rect x="983.1999999999999" y="737.8" width="16.2" height="10.6" rx="2" fill="#fff" stroke="#bdbdbd" stroke-width="1.3"/><rect x="983.1999999999999" y="737.2" width="16.2" height="2" rx="1" fill="#bdbdbd"/><rect x="987.5" y="735.4" width="1.6" height="2.4" fill="#bdbdbd"/><rect x="993.5" y="735.4" width="1.6" height="2.4" fill="#bdbdbd"/><text x="991.3" y="747" font-size="9.3" fill="#c6c6c6" text-anchor="middle">6</text></g>
<g><rect x="1153.7" y="737.8" width="16.2" height="10.6" rx="2" fill="#fff" stroke="#bdbdbd" stroke-width="1.3"/><rect x="1153.7" y="737.2" width="16.2" height="2" rx="1" fill="#bdbdbd"/><rect x="1158.0" y="735.4" width="1.6" height="2.4" fill="#bdbdbd"/><rect x="1164.0" y="735.4" width="1.6" height="2.4" fill="#bdbdbd"/><text x="1161.8" y="747" font-size="9.3" fill="#c6c6c6" text-anchor="middle">6</text></g>
<g><rect x="1239.2" y="737.8" width="16.2" height="10.6" rx="2" fill="#fff" stroke="#bdbdbd" stroke-width="1.3"/><rect x="1239.2" y="737.2" width="16.2" height="2" rx="1" fill="#bdbdbd"/><rect x="1243.5" y="735.4" width="1.6" height="2.4" fill="#bdbdbd"/><rect x="1249.5" y="735.4" width="1.6" height="2.4" fill="#bdbdbd"/><text x="1247.3" y="747" font-size="9.3" fill="#c6c6c6" text-anchor="middle">4</text></g>
<g><rect x="1324.7" y="737.8" width="16.2" height="10.6" rx="2" fill="#fff" stroke="#bdbdbd" stroke-width="1.3"/><rect x="1324.7" y="737.2" width="16.2" height="2" rx="1" fill="#bdbdbd"/><rect x="1329.0" y="735.4" width="1.6" height="2.4" fill="#bdbdbd"/><rect x="1335.0" y="735.4" width="1.6" height="2.4" fill="#bdbdbd"/><text x="1332.8" y="747" font-size="9.3" fill="#c6c6c6" text-anchor="middle">5</text></g>
<rect x="0" y="759.5" width="1499" height="40.5" fill="#dcdcdc"/>
<rect x="1427" y="760" width="60" height="40" fill="#fff"/>
<rect x="59.9" y="759.5" width="1" height="41" fill="#c9c9c9" shape-rendering="crispEdges"/>
<rect x="253.0" y="759.5" width="1" height="41" fill="#c9c9c9" shape-rendering="crispEdges"/>
<rect x="447.0" y="759.5" width="1" height="41" fill="#c9c9c9" shape-rendering="crispEdges"/>
<rect x="641.0" y="759.5" width="1" height="41" fill="#c9c9c9" shape-rendering="crispEdges"/>
<rect x="834.5" y="759.5" width="1" height="41" fill="#c9c9c9" shape-rendering="crispEdges"/>
<rect x="1029.8" y="759.5" width="1" height="41" fill="#c9c9c9" shape-rendering="crispEdges"/>
<rect x="1222.9" y="759.5" width="1" height="41" fill="#c9c9c9" shape-rendering="crispEdges"/>
<rect x="1415.5" y="759.5" width="1" height="41" fill="#c9c9c9" shape-rendering="crispEdges"/>
<rect x="0" y="800" width="1499" height="1" fill="#7a7a7a" shape-rendering="crispEdges"/>
<rect x="59.9" y="801" width="1" height="4.5" fill="#777" shape-rendering="crispEdges"/>
<rect x="253.0" y="801" width="1" height="4.5" fill="#777" shape-rendering="crispEdges"/>
<rect x="447.0" y="801" width="1" height="4.5" fill="#777" shape-rendering="crispEdges"/>
<rect x="641.0" y="801" width="1" height="4.5" fill="#777" shape-rendering="crispEdges"/>
<rect x="834.5" y="801" width="1" height="4.5" fill="#777" shape-rendering="crispEdges"/>
<rect x="1029.8" y="801" width="1" height="4.5" fill="#777" shape-rendering="crispEdges"/>
<rect x="1222.9" y="801" width="1" height="4.5" fill="#777" shape-rendering="crispEdges"/>
<rect x="1415.5" y="801" width="1" height="4.5" fill="#777" shape-rendering="crispEdges"/>
<rect x="0.0" y="788.8" width="1" height="2.8" fill="#c0283a"/>
<rect x="1.0" y="788.8" width="1" height="2.8" fill="#c0283a"/>
<rect x="2.0" y="789.0" width="2" height="2.8" fill="#00838f"/>
<rect x="4.0" y="789.3" width="1" height="2.8" fill="#c0283a"/>
<rect x="5.0" y="789.2" width="1" height="2.8" fill="#00838f"/>
<rect x="6.0" y="788.6" width="1" height="2.8" fill="#00838f"/>
<rect x="7.0" y="788.6" width="1" height="2.8" fill="#c0283a"/>
<rect x="8.0" y="788.5" width="3" height="2.8" fill="#00838f"/>
<rect x="11.0" y="788.8" width="1" height="2.8" fill="#c0283a"/>
<rect x="12.0" y="788.4" width="2" height="2.8" fill="#00838f"/>
<rect x="14.0" y="788.7" width="3" height="2.8" fill="#c0283a"/>
<rect x="18.5" y="788.5" width="3" height="2.8" fill="#00838f"/>
<rect x="21.5" y="788.2" width="1" height="2.8" fill="#c0283a"/>
<rect x="22.5" y="788.4" width="3" height="2.8" fill="#00838f"/>
<rect x="25.5" y="788.6" width="2" height="2.8" fill="#c0283a"/>
<rect x="27.5" y="788.6" width="2" height="2.8" fill="#00838f"/>
<rect x="29.5" y="788.2" width="2" height="2.8" fill="#c0283a"/>
<rect x="31.5" y="788.2" width="1" height="2.8" fill="#00838f"/>
<rect x="32.5" y="788.1" width="3" height="2.8" fill="#c0283a"/>
<rect x="35.5" y="787.8" width="2" height="2.8" fill="#00838f"/>
<rect x="37.5" y="788.0" width="1" height="2.8" fill="#c0283a"/>
<rect x="40.5" y="787.6" width="2" height="2.8" fill="#00838f"/>
<rect x="42.5" y="787.9" width="3" height="2.8" fill="#c0283a"/>
<rect x="45.5" y="788.1" width="2" height="2.8" fill="#00838f"/>
<rect x="47.5" y="787.4" width="3" height="2.8" fill="#00838f"/>
<rect x="50.5" y="788.0" width="1" height="2.8" fill="#00838f"/>
<rect x="51.5" y="787.6" width="1" height="2.8" fill="#c0283a"/>
<rect x="52.5" y="787.9" width="3" height="2.8" fill="#c0283a"/>
<rect x="57.5" y="787.4" width="2" height="2.8" fill="#c0283a"/>
<rect x="59.5" y="787.4" width="1" height="2.8" fill="#c0283a"/>
<rect x="60.5" y="787.7" width="1" height="2.8" fill="#00838f"/>
<rect x="61.5" y="787.4" width="1" height="2.8" fill="#c0283a"/>
<rect x="62.5" y="787.6" width="1" height="2.8" fill="#00838f"/>
<rect x="63.5" y="787.6" width="2" height="2.8" fill="#00838f"/>
<rect x="65.5" y="787.6" width="1" height="2.8" fill="#c0283a"/>
<rect x="66.5" y="787.2" width="3" height="2.8" fill="#00838f"/>
<rect x="69.5" y="787.1" width="2" height="2.8" fill="#00838f"/>
<rect x="71.5" y="787.4" width="2" height="2.8" fill="#00838f"/>
<rect x="73.5" y="787.1" width="1" height="2.8" fill="#c0283a"/>
<rect x="74.5" y="787.0" width="1" height="2.8" fill="#00838f"/>
<rect x="75.5" y="787.0" width="1" height="2.8" fill="#c0283a"/>
<rect x="76.5" y="787.0" width="2" height="2.8" fill="#00838f"/>
<rect x="78.5" y="786.9" width="2" height="2.8" fill="#c0283a"/>
<rect x="82.0" y="786.5" width="3" height="2.8" fill="#c0283a"/>
<rect x="85.0" y="787.1" width="2" height="2.8" fill="#c0283a"/>
<rect x="87.0" y="786.4" width="2" height="2.8" fill="#00838f"/>
<rect x="89.0" y="786.4" width="2" height="2.8" fill="#c0283a"/>
<rect x="91.0" y="786.6" width="1" height="2.8" fill="#00838f"/>
<rect x="92.0" y="786.6" width="2" height="2.8" fill="#c0283a"/>
<rect x="94.0" y="786.2" width="3" height="2.8" fill="#00838f"/>
<rect x="97.0" y="786.2" width="3" height="2.8" fill="#c0283a"/>
<rect x="100.0" y="786.1" width="2" height="2.8" fill="#00838f"/>
<rect x="102.0" y="786.4" width="1" height="2.8" fill="#c0283a"/>
<rect x="103.0" y="786.3" width="2" height="2.8" fill="#c0283a"/>
<rect x="107.0" y="786.5" width="1" height="2.8" fill="#c0283a"/>
<rect x="108.0" y="785.9" width="2" height="2.8" fill="#00838f"/>
<rect x="110.0" y="786.2" width="1" height="2.8" fill="#c0283a"/>
<rect x="111.0" y="786.1" width="2" height="2.8" fill="#00838f"/>
<rect x="113.0" y="786.1" width="3" height="2.8" fill="#c0283a"/>
<rect x="116.0" y="785.7" width="1" height="2.8" fill="#00838f"/>
<rect x="117.0" y="785.7" width="3" height="2.8" fill="#c0283a"/>
<rect x="122.5" y="785.8" width="3" height="2.8" fill="#00838f"/>
<rect x="125.5" y="785.8" width="2" height="2.8" fill="#00838f"/>
<rect x="127.5" y="785.7" width="1" height="2.8" fill="#c0283a"/>
<rect x="128.5" y="785.7" width="1" height="2.8" fill="#c0283a"/>
<rect x="129.5" y="785.7" width="1" height="2.8" fill="#00838f"/>
<rect x="130.5" y="785.6" width="1" height="2.8" fill="#00838f"/>
<rect x="131.5" y="785.6" width="2" height="2.8" fill="#c0283a"/>
<rect x="133.5" y="785.6" width="2" height="2.8" fill="#c0283a"/>
<rect x="135.5" y="785.2" width="2" height="2.8" fill="#00838f"/>
<rect x="139.0" y="785.8" width="1" height="2.8" fill="#c0283a"/>
<rect x="140.0" y="785.2" width="3" height="2.8" fill="#c0283a"/>
<rect x="143.0" y="785.4" width="2" height="2.8" fill="#c0283a"/>
<rect x="145.0" y="785.1" width="1" height="2.8" fill="#c0283a"/>
<rect x="146.0" y="785.4" width="2" height="2.8" fill="#00838f"/>
<rect x="148.0" y="785.6" width="2" height="2.8" fill="#00838f"/>
<rect x="150.0" y="785.6" width="2" height="2.8" fill="#c0283a"/>
<rect x="152.0" y="785.0" width="2" height="2.8" fill="#00838f"/>
<rect x="154.0" y="785.3" width="1" height="2.8" fill="#c0283a"/>
<rect x="155.0" y="785.5" width="1" height="2.8" fill="#00838f"/>
<rect x="156.0" y="785.5" width="1" height="2.8" fill="#c0283a"/>
<rect x="159.5" y="785.2" width="1" height="2.8" fill="#00838f"/>
<rect x="160.5" y="784.8" width="1" height="2.8" fill="#c0283a"/>
<rect x="161.5" y="785.1" width="3" height="2.8" fill="#00838f"/>
<rect x="164.5" y="785.1" width="2" height="2.8" fill="#00838f"/>
<rect x="166.5" y="785.0" width="1" height="2.8" fill="#c0283a"/>
<rect x="167.5" y="785.0" width="2" height="2.8" fill="#00838f"/>
<rect x="169.5" y="785.0" width="2" height="2.8" fill="#c0283a"/>
<rect x="171.5" y="785.0" width="1" height="2.8" fill="#c0283a"/>
<rect x="172.5" y="785.2" width="2" height="2.8" fill="#00838f"/>
<rect x="174.5" y="784.9" width="3" height="2.8" fill="#c0283a"/>
<rect x="180.0" y="784.8" width="1" height="2.8" fill="#c0283a"/>
<rect x="181.0" y="784.8" width="3" height="2.8" fill="#00838f"/>
<rect x="184.0" y="784.5" width="1" height="2.8" fill="#c0283a"/>
<rect x="185.0" y="785.0" width="3" height="2.8" fill="#00838f"/>
<rect x="188.0" y="784.4" width="1" height="2.8" fill="#00838f"/>
<rect x="189.0" y="784.4" width="1" height="2.8" fill="#c0283a"/>
<rect x="190.0" y="784.4" width="1" height="2.8" fill="#00838f"/>
<rect x="191.0" y="784.7" width="1" height="2.8" fill="#c0283a"/>
<rect x="192.0" y="784.9" width="2" height="2.8" fill="#00838f"/>
<rect x="194.0" y="784.6" width="3" height="2.8" fill="#00838f"/>
<rect x="197.0" y="784.5" width="3" height="2.8" fill="#00838f"/>
<rect x="202.0" y="784.8" width="2" height="2.8" fill="#c0283a"/>
<rect x="204.0" y="784.4" width="2" height="2.8" fill="#00838f"/>
<rect x="206.0" y="784.4" width="2" height="2.8" fill="#c0283a"/>
<rect x="208.0" y="784.3" width="1" height="2.8" fill="#c0283a"/>
<rect x="209.0" y="784.3" width="2" height="2.8" fill="#00838f"/>
<rect x="211.0" y="783.9" width="2" height="2.8" fill="#c0283a"/>
<rect x="213.0" y="784.1" width="2" height="2.8" fill="#c0283a"/>
<rect x="217.5" y="784.2" width="1" height="2.8" fill="#00838f"/>
<rect x="218.5" y="783.9" width="2" height="2.8" fill="#c0283a"/>
<rect x="220.5" y="783.8" width="2" height="2.8" fill="#00838f"/>
<rect x="222.5" y="784.0" width="1" height="2.8" fill="#c0283a"/>
<rect x="223.5" y="783.9" width="2" height="2.8" fill="#00838f"/>
<rect x="225.5" y="783.6" width="2" height="2.8" fill="#c0283a"/>
<rect x="227.5" y="783.2" width="3" height="2.8" fill="#c0283a"/>
<rect x="230.5" y="783.1" width="1" height="2.8" fill="#c0283a"/>
<rect x="233.0" y="783.2" width="2" height="2.8" fill="#00838f"/>
<rect x="235.0" y="783.5" width="2" height="2.8" fill="#00838f"/>
<rect x="237.0" y="783.4" width="2" height="2.8" fill="#c0283a"/>
<rect x="239.0" y="782.7" width="2" height="2.8" fill="#00838f"/>
<rect x="241.0" y="782.6" width="1" height="2.8" fill="#c0283a"/>
<rect x="242.0" y="782.6" width="2" height="2.8" fill="#c0283a"/>
<rect x="244.0" y="782.8" width="2" height="2.8" fill="#00838f"/>
<rect x="246.0" y="782.4" width="1" height="2.8" fill="#c0283a"/>
<rect x="247.0" y="782.9" width="2" height="2.8" fill="#00838f"/>
<rect x="251.0" y="782.5" width="1" height="2.8" fill="#c0283a"/>
<rect x="252.0" y="782.4" width="1" height="2.8" fill="#c0283a"/>
<rect x="253.0" y="782.4" width="1" height="2.8" fill="#00838f"/>
<rect x="254.0" y="782.3" width="2" height="2.8" fill="#c0283a"/>
<rect x="256.0" y="782.1" width="2" height="2.8" fill="#00838f"/>
<rect x="258.0" y="781.6" width="2" height="2.8" fill="#c0283a"/>
<rect x="260.0" y="781.4" width="2" height="2.8" fill="#00838f"/>
<rect x="262.0" y="781.5" width="3" height="2.8" fill="#c0283a"/>
<rect x="265.0" y="781.5" width="3" height="2.8" fill="#00838f"/>
<rect x="268.0" y="781.3" width="1" height="2.8" fill="#c0283a"/>
<rect x="269.0" y="782.1" width="2" height="2.8" fill="#00838f"/>
<rect x="273.5" y="783.6" width="1" height="2.8" fill="#00838f"/>
<rect x="274.5" y="783.6" width="1" height="2.8" fill="#00838f"/>
<rect x="275.5" y="783.2" width="2" height="2.8" fill="#00838f"/>
<rect x="277.5" y="783.5" width="1" height="2.8" fill="#c0283a"/>
<rect x="278.5" y="783.2" width="2" height="2.8" fill="#00838f"/>
<rect x="280.5" y="783.4" width="2" height="2.8" fill="#00838f"/>
<rect x="282.5" y="783.4" width="3" height="2.8" fill="#c0283a"/>
<rect x="285.5" y="783.4" width="1" height="2.8" fill="#00838f"/>
<rect x="286.5" y="783.3" width="2" height="2.8" fill="#c0283a"/>
<rect x="290.5" y="783.0" width="3" height="2.8" fill="#00838f"/>
<rect x="293.5" y="783.2" width="2" height="2.8" fill="#c0283a"/>
<rect x="295.5" y="782.9" width="1" height="2.8" fill="#00838f"/>
<rect x="296.5" y="783.1" width="2" height="2.8" fill="#c0283a"/>
<rect x="298.5" y="782.8" width="1" height="2.8" fill="#00838f"/>
<rect x="299.5" y="782.8" width="1" height="2.8" fill="#c0283a"/>
<rect x="300.5" y="782.8" width="1" height="2.8" fill="#00838f"/>
<rect x="301.5" y="783.1" width="2" height="2.8" fill="#c0283a"/>
<rect x="303.5" y="783.0" width="1" height="2.8" fill="#00838f"/>
<rect x="304.5" y="783.0" width="3" height="2.8" fill="#c0283a"/>
<rect x="310.0" y="782.9" width="1" height="2.8" fill="#00838f"/>
<rect x="311.0" y="783.2" width="1" height="2.8" fill="#00838f"/>
<rect x="312.0" y="782.6" width="3" height="2.8" fill="#c0283a"/>
<rect x="315.0" y="782.8" width="3" height="2.8" fill="#00838f"/>
<rect x="318.0" y="782.8" width="1" height="2.8" fill="#c0283a"/>
<rect x="319.0" y="783.0" width="2" height="2.8" fill="#c0283a"/>
<rect x="321.0" y="782.4" width="2" height="2.8" fill="#00838f"/>
<rect x="323.0" y="783.0" width="3" height="2.8" fill="#c0283a"/>
<rect x="326.0" y="782.3" width="2" height="2.8" fill="#00838f"/>
<rect x="330.5" y="782.2" width="3" height="2.8" fill="#c0283a"/>
<rect x="333.5" y="782.2" width="2" height="2.8" fill="#00838f"/>
<rect x="335.5" y="782.4" width="2" height="2.8" fill="#c0283a"/>
<rect x="337.5" y="782.7" width="1" height="2.8" fill="#00838f"/>
<rect x="338.5" y="782.1" width="2" height="2.8" fill="#00838f"/>
<rect x="340.5" y="782.3" width="2" height="2.8" fill="#00838f"/>
<rect x="342.5" y="782.3" width="1" height="2.8" fill="#c0283a"/>
<rect x="343.5" y="782.3" width="1" height="2.8" fill="#00838f"/>
<rect x="344.5" y="782.3" width="2" height="2.8" fill="#c0283a"/>
<rect x="346.5" y="781.9" width="3" height="2.8" fill="#00838f"/>
<rect x="351.5" y="781.8" width="2" height="2.8" fill="#c0283a"/>
<rect x="353.5" y="782.1" width="1" height="2.8" fill="#00838f"/>
<rect x="354.5" y="782.4" width="3" height="2.8" fill="#c0283a"/>
<rect x="357.5" y="782.0" width="2" height="2.8" fill="#00838f"/>
<rect x="359.5" y="782.3" width="2" height="2.8" fill="#00838f"/>
<rect x="361.5" y="781.7" width="1" height="2.8" fill="#c0283a"/>
<rect x="365.0" y="781.9" width="2" height="2.8" fill="#00838f"/>
<rect x="367.0" y="781.9" width="1" height="2.8" fill="#c0283a"/>
<rect x="368.0" y="781.8" width="3" height="2.8" fill="#00838f"/>
<rect x="371.0" y="781.8" width="1" height="2.8" fill="#c0283a"/>
<rect x="372.0" y="781.8" width="1" height="2.8" fill="#00838f"/>
<rect x="373.0" y="782.1" width="2" height="2.8" fill="#00838f"/>
<rect x="375.0" y="781.4" width="2" height="2.8" fill="#c0283a"/>
<rect x="377.0" y="782.0" width="2" height="2.8" fill="#00838f"/>
<rect x="379.0" y="781.9" width="2" height="2.8" fill="#c0283a"/>
<rect x="381.0" y="781.3" width="2" height="2.8" fill="#00838f"/>
<rect x="385.0" y="781.8" width="2" height="2.8" fill="#00838f"/>
<rect x="387.0" y="781.5" width="1" height="2.8" fill="#00838f"/>
<rect x="388.0" y="781.5" width="1" height="2.8" fill="#00838f"/>
<rect x="389.0" y="781.8" width="2" height="2.8" fill="#c0283a"/>
<rect x="391.0" y="781.1" width="2" height="2.8" fill="#c0283a"/>
<rect x="393.0" y="781.4" width="2" height="2.8" fill="#c0283a"/>
<rect x="395.0" y="781.2" width="1" height="2.8" fill="#00838f"/>
<rect x="398.5" y="781.8" width="1" height="2.8" fill="#c0283a"/>
<rect x="399.5" y="781.9" width="2" height="2.8" fill="#00838f"/>
<rect x="401.5" y="782.4" width="2" height="2.8" fill="#00838f"/>
<rect x="403.5" y="782.5" width="1" height="2.8" fill="#00838f"/>
<rect x="404.5" y="782.0" width="3" height="2.8" fill="#c0283a"/>
<rect x="407.5" y="782.8" width="1" height="2.8" fill="#c0283a"/>
<rect x="408.5" y="782.6" width="2" height="2.8" fill="#00838f"/>
<rect x="410.5" y="782.7" width="2" height="2.8" fill="#c0283a"/>
<rect x="412.5" y="782.8" width="1" height="2.8" fill="#00838f"/>
<rect x="415.5" y="783.0" width="2" height="2.8" fill="#c0283a"/>
<rect x="417.5" y="783.1" width="2" height="2.8" fill="#00838f"/>
<rect x="419.5" y="783.5" width="2" height="2.8" fill="#c0283a"/>
<rect x="421.5" y="783.3" width="1" height="2.8" fill="#00838f"/>
<rect x="422.5" y="783.6" width="1" height="2.8" fill="#c0283a"/>
<rect x="423.5" y="783.4" width="3" height="2.8" fill="#00838f"/>
<rect x="426.5" y="783.6" width="2" height="2.8" fill="#c0283a"/>
<rect x="428.5" y="783.7" width="1" height="2.8" fill="#00838f"/>
<rect x="429.5" y="783.8" width="3" height="2.8" fill="#c0283a"/>
<rect x="434.5" y="783.8" width="3" height="2.8" fill="#00838f"/>
<rect x="437.5" y="784.2" width="2" height="2.8" fill="#c0283a"/>
<rect x="439.5" y="784.0" width="2" height="2.8" fill="#00838f"/>
<rect x="441.5" y="784.4" width="2" height="2.8" fill="#c0283a"/>
<rect x="443.5" y="784.2" width="1" height="2.8" fill="#00838f"/>
<rect x="444.5" y="784.2" width="1" height="2.8" fill="#c0283a"/>
<rect x="445.5" y="784.3" width="2" height="2.8" fill="#00838f"/>
<rect x="447.5" y="783.6" width="2" height="2.8" fill="#00838f"/>
<rect x="451.0" y="783.9" width="2" height="2.8" fill="#c0283a"/>
<rect x="453.0" y="783.1" width="3" height="2.8" fill="#00838f"/>
<rect x="456.0" y="783.5" width="2" height="2.8" fill="#00838f"/>
<rect x="458.0" y="782.7" width="2" height="2.8" fill="#c0283a"/>
<rect x="460.0" y="782.6" width="1" height="2.8" fill="#00838f"/>
<rect x="461.0" y="782.5" width="2" height="2.8" fill="#c0283a"/>
<rect x="464.5" y="782.3" width="1" height="2.8" fill="#00838f"/>
<rect x="465.5" y="782.4" width="2" height="2.8" fill="#00838f"/>
<rect x="467.5" y="782.0" width="3" height="2.8" fill="#c0283a"/>
<rect x="470.5" y="782.3" width="1" height="2.8" fill="#00838f"/>
<rect x="471.5" y="781.9" width="2" height="2.8" fill="#c0283a"/>
<rect x="473.5" y="782.5" width="1" height="2.8" fill="#00838f"/>
<rect x="474.5" y="782.1" width="2" height="2.8" fill="#00838f"/>
<rect x="476.5" y="782.1" width="2" height="2.8" fill="#c0283a"/>
<rect x="480.0" y="782.0" width="2" height="2.8" fill="#00838f"/>
<rect x="482.0" y="782.2" width="2" height="2.8" fill="#00838f"/>
<rect x="484.0" y="782.2" width="1" height="2.8" fill="#c0283a"/>
<rect x="485.0" y="781.5" width="2" height="2.8" fill="#00838f"/>
<rect x="487.0" y="781.8" width="2" height="2.8" fill="#c0283a"/>
<rect x="489.0" y="781.7" width="2" height="2.8" fill="#00838f"/>
<rect x="491.0" y="781.9" width="3" height="2.8" fill="#c0283a"/>
<rect x="494.0" y="781.6" width="1" height="2.8" fill="#00838f"/>
<rect x="495.0" y="781.5" width="1" height="2.8" fill="#c0283a"/>
<rect x="496.0" y="781.8" width="2" height="2.8" fill="#00838f"/>
<rect x="500.5" y="781.1" width="1" height="2.8" fill="#c0283a"/>
<rect x="501.5" y="781.8" width="3" height="2.8" fill="#00838f"/>
<rect x="504.5" y="781.6" width="1" height="2.8" fill="#c0283a"/>
<rect x="505.5" y="781.3" width="2" height="2.8" fill="#00838f"/>
<rect x="507.5" y="781.7" width="1" height="2.8" fill="#c0283a"/>
<rect x="508.5" y="781.7" width="1" height="2.8" fill="#c0283a"/>
<rect x="509.5" y="782.1" width="2" height="2.8" fill="#00838f"/>
<rect x="511.5" y="782.1" width="1" height="2.8" fill="#c0283a"/>
<rect x="512.5" y="782.2" width="2" height="2.8" fill="#c0283a"/>
<rect x="516.0" y="781.7" width="1" height="2.8" fill="#00838f"/>
<rect x="517.0" y="781.8" width="2" height="2.8" fill="#c0283a"/>
<rect x="519.0" y="782.2" width="3" height="2.8" fill="#c0283a"/>
<rect x="522.0" y="782.3" width="2" height="2.8" fill="#00838f"/>
<rect x="524.0" y="782.6" width="2" height="2.8" fill="#c0283a"/>
<rect x="526.0" y="782.7" width="1" height="2.8" fill="#00838f"/>
<rect x="527.0" y="782.7" width="1" height="2.8" fill="#c0283a"/>
<rect x="529.5" y="782.6" width="2" height="2.8" fill="#00838f"/>
<rect x="531.5" y="782.6" width="1" height="2.8" fill="#c0283a"/>
<rect x="532.5" y="781.9" width="1" height="2.8" fill="#c0283a"/>
<rect x="533.5" y="781.9" width="2" height="2.8" fill="#00838f"/>
<rect x="535.5" y="782.1" width="3" height="2.8" fill="#c0283a"/>
<rect x="538.5" y="781.8" width="2" height="2.8" fill="#c0283a"/>
<rect x="540.5" y="782.0" width="2" height="2.8" fill="#00838f"/>
<rect x="542.5" y="781.7" width="2" height="2.8" fill="#c0283a"/>
<rect x="544.5" y="781.6" width="1" height="2.8" fill="#c0283a"/>
<rect x="545.5" y="782.2" width="2" height="2.8" fill="#00838f"/>
<rect x="547.5" y="782.2" width="2" height="2.8" fill="#00838f"/>
<rect x="549.5" y="782.1" width="2" height="2.8" fill="#c0283a"/>
<rect x="553.0" y="781.7" width="2" height="2.8" fill="#c0283a"/>
<rect x="555.0" y="781.7" width="3" height="2.8" fill="#00838f"/>
<rect x="558.0" y="781.3" width="2" height="2.8" fill="#c0283a"/>
<rect x="560.0" y="781.5" width="3" height="2.8" fill="#00838f"/>
<rect x="563.0" y="781.2" width="1" height="2.8" fill="#c0283a"/>
<rect x="566.0" y="781.7" width="3" height="2.8" fill="#00838f"/>
<rect x="569.0" y="781.3" width="1" height="2.8" fill="#00838f"/>
<rect x="570.0" y="780.9" width="3" height="2.8" fill="#c0283a"/>
<rect x="573.0" y="781.5" width="2" height="2.8" fill="#00838f"/>
<rect x="575.0" y="781.4" width="1" height="2.8" fill="#c0283a"/>
<rect x="576.0" y="781.1" width="2" height="2.8" fill="#00838f"/>
<rect x="578.0" y="780.7" width="3" height="2.8" fill="#00838f"/>
<rect x="581.0" y="780.9" width="2" height="2.8" fill="#c0283a"/>
<rect x="583.0" y="780.9" width="2" height="2.8" fill="#00838f"/>
<rect x="586.5" y="780.8" width="1" height="2.8" fill="#c0283a"/>
<rect x="587.5" y="780.7" width="1" height="2.8" fill="#00838f"/>
<rect x="588.5" y="780.7" width="2" height="2.8" fill="#c0283a"/>
<rect x="590.5" y="780.6" width="1" height="2.8" fill="#00838f"/>
<rect x="591.5" y="780.3" width="1" height="2.8" fill="#c0283a"/>
<rect x="592.5" y="780.6" width="1" height="2.8" fill="#00838f"/>
<rect x="593.5" y="780.2" width="2" height="2.8" fill="#00838f"/>
<rect x="595.5" y="780.2" width="2" height="2.8" fill="#c0283a"/>
<rect x="597.5" y="780.4" width="1" height="2.8" fill="#00838f"/>
<rect x="598.5" y="780.4" width="1" height="2.8" fill="#c0283a"/>
<rect x="599.5" y="780.0" width="2" height="2.8" fill="#00838f"/>
<rect x="601.5" y="780.3" width="1" height="2.8" fill="#c0283a"/>
<rect x="602.5" y="780.3" width="1" height="2.8" fill="#00838f"/>
<rect x="603.5" y="780.2" width="1" height="2.8" fill="#c0283a"/>
<rect x="606.0" y="780.2" width="1" height="2.8" fill="#c0283a"/>
<rect x="607.0" y="780.1" width="2" height="2.8" fill="#00838f"/>
<rect x="609.0" y="780.0" width="3" height="2.8" fill="#c0283a"/>
<rect x="612.0" y="780.3" width="1" height="2.8" fill="#00838f"/>
<rect x="613.0" y="780.2" width="1" height="2.8" fill="#c0283a"/>
<rect x="614.0" y="779.6" width="3" height="2.8" fill="#00838f"/>
<rect x="617.0" y="779.8" width="1" height="2.8" fill="#c0283a"/>
<rect x="618.0" y="779.8" width="2" height="2.8" fill="#c0283a"/>
<rect x="620.0" y="779.7" width="2" height="2.8" fill="#c0283a"/>
<rect x="622.0" y="779.9" width="3" height="2.8" fill="#c0283a"/>
<rect x="625.0" y="779.5" width="2" height="2.8" fill="#00838f"/>
<rect x="629.5" y="779.4" width="2" height="2.8" fill="#c0283a"/>
<rect x="631.5" y="779.4" width="1" height="2.8" fill="#00838f"/>
<rect x="632.5" y="779.0" width="2" height="2.8" fill="#c0283a"/>
<rect x="634.5" y="779.2" width="2" height="2.8" fill="#00838f"/>
<rect x="636.5" y="779.2" width="2" height="2.8" fill="#00838f"/>
<rect x="638.5" y="779.1" width="1" height="2.8" fill="#c0283a"/>
<rect x="639.5" y="779.1" width="2" height="2.8" fill="#00838f"/>
<rect x="641.5" y="779.1" width="3" height="2.8" fill="#c0283a"/>
<rect x="646.5" y="778.8" width="3" height="2.8" fill="#00838f"/>
<rect x="649.5" y="779.1" width="1" height="2.8" fill="#c0283a"/>
<rect x="650.5" y="778.8" width="2" height="2.8" fill="#00838f"/>
<rect x="652.5" y="779.4" width="2" height="2.8" fill="#c0283a"/>
<rect x="654.5" y="779.1" width="1" height="2.8" fill="#c0283a"/>
<rect x="655.5" y="779.1" width="1" height="2.8" fill="#00838f"/>
<rect x="656.5" y="779.1" width="2" height="2.8" fill="#c0283a"/>
<rect x="658.5" y="779.1" width="1" height="2.8" fill="#00838f"/>
<rect x="661.5" y="779.1" width="1" height="2.8" fill="#c0283a"/>
<rect x="662.5" y="778.8" width="1" height="2.8" fill="#c0283a"/>
<rect x="663.5" y="779.4" width="2" height="2.8" fill="#00838f"/>
<rect x="665.5" y="779.2" width="3" height="2.8" fill="#00838f"/>
<rect x="668.5" y="780.0" width="2" height="2.8" fill="#c0283a"/>
<rect x="670.5" y="780.7" width="2" height="2.8" fill="#00838f"/>
<rect x="672.5" y="781.4" width="2" height="2.8" fill="#c0283a"/>
<rect x="674.5" y="782.3" width="1" height="2.8" fill="#00838f"/>
<rect x="675.5" y="782.8" width="2" height="2.8" fill="#c0283a"/>
<rect x="679.0" y="784.4" width="2" height="2.8" fill="#00838f"/>
<rect x="681.0" y="785.2" width="2" height="2.8" fill="#c0283a"/>
<rect x="683.0" y="786.0" width="2" height="2.8" fill="#00838f"/>
<rect x="685.0" y="785.6" width="1" height="2.8" fill="#c0283a"/>
<rect x="686.0" y="785.3" width="2" height="2.8" fill="#00838f"/>
<rect x="688.0" y="785.5" width="1" height="2.8" fill="#00838f"/>
<rect x="689.0" y="784.7" width="1" height="2.8" fill="#c0283a"/>
<rect x="690.0" y="784.3" width="3" height="2.8" fill="#00838f"/>
<rect x="693.0" y="784.4" width="1" height="2.8" fill="#c0283a"/>
<rect x="694.0" y="784.0" width="2" height="2.8" fill="#c0283a"/>
<rect x="696.0" y="784.0" width="1" height="2.8" fill="#00838f"/>
<rect x="699.5" y="783.9" width="1" height="2.8" fill="#c0283a"/>
<rect x="700.5" y="784.1" width="2" height="2.8" fill="#00838f"/>
<rect x="702.5" y="783.8" width="1" height="2.8" fill="#c0283a"/>
<rect x="703.5" y="783.7" width="2" height="2.8" fill="#00838f"/>
<rect x="705.5" y="783.7" width="1" height="2.8" fill="#c0283a"/>
<rect x="706.5" y="783.6" width="2" height="2.8" fill="#c0283a"/>
<rect x="708.5" y="783.2" width="2" height="2.8" fill="#00838f"/>
<rect x="710.5" y="783.8" width="2" height="2.8" fill="#00838f"/>
<rect x="712.5" y="783.0" width="3" height="2.8" fill="#c0283a"/>
<rect x="717.5" y="782.3" width="2" height="2.8" fill="#00838f"/>
<rect x="719.5" y="781.8" width="2" height="2.8" fill="#c0283a"/>
<rect x="721.5" y="781.3" width="3" height="2.8" fill="#00838f"/>
<rect x="724.5" y="780.8" width="1" height="2.8" fill="#c0283a"/>
<rect x="725.5" y="780.1" width="3" height="2.8" fill="#00838f"/>
<rect x="728.5" y="780.7" width="2" height="2.8" fill="#00838f"/>
<rect x="730.5" y="781.0" width="2" height="2.8" fill="#c0283a"/>
<rect x="732.5" y="781.2" width="1" height="2.8" fill="#00838f"/>
<rect x="733.5" y="781.6" width="1" height="2.8" fill="#c0283a"/>
<rect x="734.5" y="781.2" width="2" height="2.8" fill="#00838f"/>
<rect x="738.0" y="781.6" width="1" height="2.8" fill="#c0283a"/>
<rect x="739.0" y="782.0" width="1" height="2.8" fill="#00838f"/>
<rect x="740.0" y="782.0" width="2" height="2.8" fill="#c0283a"/>
<rect x="742.0" y="781.8" width="3" height="2.8" fill="#00838f"/>
<rect x="745.0" y="781.5" width="3" height="2.8" fill="#c0283a"/>
<rect x="748.0" y="781.2" width="3" height="2.8" fill="#c0283a"/>
<rect x="751.0" y="781.0" width="1" height="2.8" fill="#00838f"/>
<rect x="752.0" y="780.6" width="1" height="2.8" fill="#c0283a"/>
<rect x="753.0" y="780.8" width="1" height="2.8" fill="#c0283a"/>
<rect x="754.0" y="780.4" width="2" height="2.8" fill="#c0283a"/>
<rect x="757.5" y="780.6" width="3" height="2.8" fill="#c0283a"/>
<rect x="760.5" y="780.3" width="3" height="2.8" fill="#c0283a"/>
<rect x="763.5" y="779.6" width="1" height="2.8" fill="#00838f"/>
<rect x="764.5" y="779.5" width="1" height="2.8" fill="#c0283a"/>
<rect x="765.5" y="779.6" width="2" height="2.8" fill="#00838f"/>
<rect x="767.5" y="779.4" width="1" height="2.8" fill="#00838f"/>
<rect x="768.5" y="779.7" width="1" height="2.8" fill="#c0283a"/>
<rect x="769.5" y="780.1" width="1" height="2.8" fill="#00838f"/>
<rect x="770.5" y="779.9" width="3" height="2.8" fill="#c0283a"/>
<rect x="773.5" y="779.7" width="1" height="2.8" fill="#00838f"/>
<rect x="774.5" y="779.8" width="2" height="2.8" fill="#c0283a"/>
<rect x="776.5" y="780.5" width="2" height="2.8" fill="#c0283a"/>
<rect x="780.0" y="780.2" width="2" height="2.8" fill="#00838f"/>
<rect x="782.0" y="780.3" width="2" height="2.8" fill="#c0283a"/>
<rect x="784.0" y="780.6" width="1" height="2.8" fill="#00838f"/>
<rect x="785.0" y="780.9" width="1" height="2.8" fill="#c0283a"/>
<rect x="786.0" y="780.6" width="3" height="2.8" fill="#c0283a"/>
<rect x="789.0" y="780.2" width="1" height="2.8" fill="#00838f"/>
<rect x="790.0" y="780.5" width="1" height="2.8" fill="#c0283a"/>
<rect x="791.0" y="780.5" width="1" height="2.8" fill="#c0283a"/>
<rect x="792.0" y="780.5" width="1" height="2.8" fill="#c0283a"/>
<rect x="793.0" y="780.8" width="3" height="2.8" fill="#00838f"/>
<rect x="796.0" y="780.1" width="2" height="2.8" fill="#00838f"/>
<rect x="798.0" y="780.4" width="1" height="2.8" fill="#c0283a"/>
<rect x="799.0" y="780.3" width="3" height="2.8" fill="#c0283a"/>
<rect x="804.0" y="779.8" width="3" height="2.8" fill="#00838f"/>
<rect x="807.0" y="779.2" width="1" height="2.8" fill="#c0283a"/>
<rect x="808.0" y="779.4" width="1" height="2.8" fill="#00838f"/>
<rect x="809.0" y="779.0" width="2" height="2.8" fill="#00838f"/>
<rect x="811.0" y="778.8" width="1" height="2.8" fill="#c0283a"/>
<rect x="812.0" y="778.7" width="1" height="2.8" fill="#00838f"/>
<rect x="813.0" y="778.7" width="3" height="2.8" fill="#00838f"/>
<rect x="816.0" y="778.1" width="3" height="2.8" fill="#00838f"/>
<rect x="819.0" y="778.1" width="2" height="2.8" fill="#c0283a"/>
<rect x="821.0" y="777.8" width="1" height="2.8" fill="#00838f"/>
<rect x="822.0" y="778.0" width="1" height="2.8" fill="#00838f"/>
<rect x="823.0" y="777.7" width="2" height="2.8" fill="#c0283a"/>
<rect x="827.5" y="778.2" width="2" height="2.8" fill="#00838f"/>
<rect x="829.5" y="777.9" width="2" height="2.8" fill="#c0283a"/>
<rect x="831.5" y="777.8" width="2" height="2.8" fill="#00838f"/>
<rect x="833.5" y="778.1" width="2" height="2.8" fill="#00838f"/>
<rect x="835.5" y="777.4" width="2" height="2.8" fill="#c0283a"/>
<rect x="837.5" y="777.4" width="2" height="2.8" fill="#00838f"/>
<rect x="839.5" y="777.3" width="2" height="2.8" fill="#c0283a"/>
<rect x="844.0" y="777.2" width="1" height="2.8" fill="#00838f"/>
<rect x="845.0" y="777.5" width="3" height="2.8" fill="#00838f"/>
<rect x="848.0" y="777.4" width="2" height="2.8" fill="#c0283a"/>
<rect x="850.0" y="777.0" width="2" height="2.8" fill="#00838f"/>
<rect x="852.0" y="776.9" width="1" height="2.8" fill="#c0283a"/>
<rect x="853.0" y="777.1" width="2" height="2.8" fill="#00838f"/>
<rect x="855.0" y="777.0" width="2" height="2.8" fill="#c0283a"/>
<rect x="857.0" y="776.8" width="3" height="2.8" fill="#c0283a"/>
<rect x="860.0" y="776.7" width="1" height="2.8" fill="#c0283a"/>
<rect x="861.0" y="776.3" width="2" height="2.8" fill="#00838f"/>
<rect x="863.0" y="776.2" width="2" height="2.8" fill="#00838f"/>
<rect x="867.5" y="776.5" width="2" height="2.8" fill="#c0283a"/>
<rect x="869.5" y="775.8" width="1" height="2.8" fill="#00838f"/>
<rect x="870.5" y="776.0" width="2" height="2.8" fill="#c0283a"/>
<rect x="872.5" y="775.8" width="2" height="2.8" fill="#c0283a"/>
<rect x="874.5" y="775.7" width="2" height="2.8" fill="#c0283a"/>
<rect x="876.5" y="775.3" width="2" height="2.8" fill="#00838f"/>
<rect x="878.5" y="775.5" width="2" height="2.8" fill="#c0283a"/>
<rect x="880.5" y="775.3" width="2" height="2.8" fill="#00838f"/>
<rect x="882.5" y="775.2" width="1" height="2.8" fill="#c0283a"/>
<rect x="886.0" y="775.0" width="1" height="2.8" fill="#00838f"/>
<rect x="887.0" y="774.9" width="3" height="2.8" fill="#c0283a"/>
<rect x="890.0" y="774.7" width="3" height="2.8" fill="#00838f"/>
<rect x="893.0" y="774.5" width="1" height="2.8" fill="#c0283a"/>
<rect x="894.0" y="774.5" width="1" height="2.8" fill="#00838f"/>
<rect x="895.0" y="774.1" width="2" height="2.8" fill="#00838f"/>
<rect x="897.0" y="774.0" width="1" height="2.8" fill="#00838f"/>
<rect x="898.0" y="774.2" width="1" height="2.8" fill="#c0283a"/>
<rect x="899.0" y="774.4" width="2" height="2.8" fill="#00838f"/>
<rect x="903.0" y="773.7" width="1" height="2.8" fill="#c0283a"/>
<rect x="904.0" y="774.3" width="2" height="2.8" fill="#00838f"/>
<rect x="906.0" y="774.3" width="2" height="2.8" fill="#c0283a"/>
<rect x="908.0" y="773.9" width="2" height="2.8" fill="#00838f"/>
<rect x="910.0" y="773.9" width="2" height="2.8" fill="#c0283a"/>
<rect x="912.0" y="773.5" width="3" height="2.8" fill="#00838f"/>
<rect x="915.0" y="774.1" width="1" height="2.8" fill="#00838f"/>
<rect x="916.0" y="774.1" width="3" height="2.8" fill="#c0283a"/>
<rect x="920.5" y="773.7" width="3" height="2.8" fill="#c0283a"/>
<rect x="923.5" y="773.7" width="1" height="2.8" fill="#00838f"/>
<rect x="924.5" y="773.3" width="2" height="2.8" fill="#c0283a"/>
<rect x="926.5" y="773.9" width="2" height="2.8" fill="#00838f"/>
<rect x="928.5" y="773.9" width="1" height="2.8" fill="#c0283a"/>
<rect x="929.5" y="773.8" width="2" height="2.8" fill="#00838f"/>
<rect x="931.5" y="773.5" width="3" height="2.8" fill="#c0283a"/>
<rect x="934.5" y="773.7" width="2" height="2.8" fill="#00838f"/>
<rect x="936.5" y="773.1" width="2" height="2.8" fill="#00838f"/>
<rect x="938.5" y="773.4" width="1" height="2.8" fill="#c0283a"/>
<rect x="939.5" y="773.4" width="1" height="2.8" fill="#00838f"/>
<rect x="940.5" y="773.6" width="3" height="2.8" fill="#c0283a"/>
<rect x="946.0" y="773.2" width="2" height="2.8" fill="#00838f"/>
<rect x="948.0" y="773.5" width="3" height="2.8" fill="#c0283a"/>
<rect x="951.0" y="773.1" width="1" height="2.8" fill="#c0283a"/>
<rect x="952.0" y="772.8" width="2" height="2.8" fill="#00838f"/>
<rect x="954.0" y="772.8" width="3" height="2.8" fill="#c0283a"/>
<rect x="957.0" y="773.4" width="2" height="2.8" fill="#00838f"/>
<rect x="959.0" y="773.3" width="1" height="2.8" fill="#c0283a"/>
<rect x="962.0" y="772.7" width="2" height="2.8" fill="#00838f"/>
<rect x="964.0" y="773.3" width="1" height="2.8" fill="#c0283a"/>
<rect x="965.0" y="773.3" width="3" height="2.8" fill="#c0283a"/>
<rect x="968.0" y="772.9" width="2" height="2.8" fill="#00838f"/>
<rect x="970.0" y="772.9" width="1" height="2.8" fill="#00838f"/>
<rect x="971.0" y="772.9" width="2" height="2.8" fill="#c0283a"/>
<rect x="973.0" y="773.2" width="1" height="2.8" fill="#00838f"/>
<rect x="974.0" y="772.9" width="2" height="2.8" fill="#00838f"/>
<rect x="976.0" y="772.8" width="2" height="2.8" fill="#c0283a"/>
<rect x="978.0" y="772.8" width="2" height="2.8" fill="#00838f"/>
<rect x="980.0" y="773.1" width="2" height="2.8" fill="#c0283a"/>
<rect x="982.0" y="772.8" width="1" height="2.8" fill="#c0283a"/>
<rect x="985.0" y="773.1" width="2" height="2.8" fill="#00838f"/>
<rect x="987.0" y="772.4" width="2" height="2.8" fill="#c0283a"/>
<rect x="989.0" y="772.7" width="2" height="2.8" fill="#00838f"/>
<rect x="991.0" y="772.7" width="2" height="2.8" fill="#c0283a"/>
<rect x="993.0" y="772.7" width="1" height="2.8" fill="#00838f"/>
<rect x="994.0" y="772.3" width="3" height="2.8" fill="#c0283a"/>
<rect x="997.0" y="772.6" width="1" height="2.8" fill="#c0283a"/>
<rect x="998.0" y="772.6" width="2" height="2.8" fill="#00838f"/>
<rect x="1001.5" y="772.6" width="2" height="2.8" fill="#c0283a"/>
<rect x="1003.5" y="772.7" width="1" height="2.8" fill="#c0283a"/>
<rect x="1004.5" y="772.4" width="3" height="2.8" fill="#c0283a"/>
<rect x="1007.5" y="772.7" width="3" height="2.8" fill="#00838f"/>
<rect x="1010.5" y="772.8" width="1" height="2.8" fill="#c0283a"/>
<rect x="1011.5" y="773.1" width="3" height="2.8" fill="#00838f"/>
<rect x="1017.0" y="773.2" width="3" height="2.8" fill="#c0283a"/>
<rect x="1020.0" y="773.2" width="1" height="2.8" fill="#c0283a"/>
<rect x="1021.0" y="773.3" width="2" height="2.8" fill="#00838f"/>
<rect x="1023.0" y="773.3" width="2" height="2.8" fill="#00838f"/>
<rect x="1025.0" y="772.7" width="1" height="2.8" fill="#c0283a"/>
<rect x="1026.0" y="773.3" width="1" height="2.8" fill="#c0283a"/>
<rect x="1027.0" y="773.1" width="3" height="2.8" fill="#00838f"/>
<rect x="1032.0" y="772.8" width="2" height="2.8" fill="#c0283a"/>
<rect x="1034.0" y="772.9" width="1" height="2.8" fill="#00838f"/>
<rect x="1035.0" y="773.2" width="1" height="2.8" fill="#c0283a"/>
<rect x="1036.0" y="773.5" width="1" height="2.8" fill="#00838f"/>
<rect x="1037.0" y="773.5" width="1" height="2.8" fill="#c0283a"/>
<rect x="1038.0" y="773.2" width="1" height="2.8" fill="#00838f"/>
<rect x="1039.0" y="773.2" width="2" height="2.8" fill="#c0283a"/>
<rect x="1041.0" y="773.6" width="2" height="2.8" fill="#00838f"/>
<rect x="1043.0" y="773.3" width="2" height="2.8" fill="#c0283a"/>
<rect x="1045.0" y="773.6" width="2" height="2.8" fill="#00838f"/>
<rect x="1047.0" y="773.4" width="2" height="2.8" fill="#c0283a"/>
<rect x="1051.5" y="773.3" width="1" height="2.8" fill="#00838f"/>
<rect x="1052.5" y="773.8" width="2" height="2.8" fill="#c0283a"/>
<rect x="1054.5" y="773.6" width="1" height="2.8" fill="#00838f"/>
<rect x="1055.5" y="774.3" width="1" height="2.8" fill="#c0283a"/>
<rect x="1056.5" y="774.5" width="3" height="2.8" fill="#00838f"/>
<rect x="1059.5" y="774.2" width="2" height="2.8" fill="#c0283a"/>
<rect x="1061.5" y="774.9" width="1" height="2.8" fill="#c0283a"/>
<rect x="1062.5" y="774.5" width="3" height="2.8" fill="#00838f"/>
<rect x="1065.5" y="775.4" width="3" height="2.8" fill="#00838f"/>
<rect x="1071.0" y="775.0" width="3" height="2.8" fill="#00838f"/>
<rect x="1074.0" y="775.6" width="1" height="2.8" fill="#c0283a"/>
<rect x="1075.0" y="775.4" width="1" height="2.8" fill="#00838f"/>
<rect x="1076.0" y="775.1" width="1" height="2.8" fill="#c0283a"/>
<rect x="1077.0" y="775.4" width="1" height="2.8" fill="#00838f"/>
<rect x="1078.0" y="775.5" width="2" height="2.8" fill="#c0283a"/>
<rect x="1080.0" y="775.2" width="2" height="2.8" fill="#00838f"/>
<rect x="1082.0" y="775.3" width="2" height="2.8" fill="#c0283a"/>
<rect x="1086.0" y="775.4" width="3" height="2.8" fill="#00838f"/>
<rect x="1089.0" y="776.1" width="2" height="2.8" fill="#c0283a"/>
<rect x="1091.0" y="776.2" width="2" height="2.8" fill="#00838f"/>
<rect x="1093.0" y="775.9" width="3" height="2.8" fill="#c0283a"/>
<rect x="1096.0" y="775.7" width="2" height="2.8" fill="#00838f"/>
<rect x="1098.0" y="776.1" width="1" height="2.8" fill="#c0283a"/>
<rect x="1099.0" y="776.4" width="1" height="2.8" fill="#00838f"/>
<rect x="1100.0" y="775.8" width="1" height="2.8" fill="#c0283a"/>
<rect x="1101.0" y="775.8" width="1" height="2.8" fill="#00838f"/>
<rect x="1102.0" y="776.2" width="1" height="2.8" fill="#c0283a"/>
<rect x="1103.0" y="776.2" width="3" height="2.8" fill="#00838f"/>
<rect x="1107.5" y="776.0" width="1" height="2.8" fill="#c0283a"/>
<rect x="1108.5" y="776.7" width="2" height="2.8" fill="#00838f"/>
<rect x="1110.5" y="776.4" width="2" height="2.8" fill="#c0283a"/>
<rect x="1112.5" y="776.2" width="1" height="2.8" fill="#00838f"/>
<rect x="1113.5" y="776.2" width="1" height="2.8" fill="#c0283a"/>
<rect x="1114.5" y="776.6" width="2" height="2.8" fill="#00838f"/>
<rect x="1116.5" y="776.6" width="2" height="2.8" fill="#c0283a"/>
<rect x="1118.5" y="776.8" width="2" height="2.8" fill="#c0283a"/>
<rect x="1120.5" y="776.4" width="2" height="2.8" fill="#00838f"/>
<rect x="1122.5" y="776.3" width="1" height="2.8" fill="#c0283a"/>
<rect x="1126.0" y="776.4" width="2" height="2.8" fill="#00838f"/>
<rect x="1128.0" y="776.0" width="2" height="2.8" fill="#00838f"/>
<rect x="1130.0" y="776.0" width="2" height="2.8" fill="#c0283a"/>
<rect x="1132.0" y="775.5" width="3" height="2.8" fill="#00838f"/>
<rect x="1135.0" y="775.7" width="1" height="2.8" fill="#c0283a"/>
<rect x="1136.0" y="775.7" width="3" height="2.8" fill="#00838f"/>
<rect x="1139.0" y="775.8" width="2" height="2.8" fill="#c0283a"/>
<rect x="1141.0" y="775.4" width="3" height="2.8" fill="#00838f"/>
<rect x="1146.0" y="775.3" width="1" height="2.8" fill="#c0283a"/>
<rect x="1147.0" y="774.9" width="2" height="2.8" fill="#00838f"/>
<rect x="1149.0" y="775.1" width="2" height="2.8" fill="#00838f"/>
<rect x="1151.0" y="775.8" width="2" height="2.8" fill="#00838f"/>
<rect x="1153.0" y="776.1" width="2" height="2.8" fill="#c0283a"/>
<rect x="1155.0" y="776.2" width="2" height="2.8" fill="#00838f"/>
<rect x="1157.0" y="776.9" width="2" height="2.8" fill="#c0283a"/>
<rect x="1159.0" y="776.9" width="2" height="2.8" fill="#00838f"/>
<rect x="1163.5" y="777.4" width="2" height="2.8" fill="#c0283a"/>
<rect x="1165.5" y="777.9" width="3" height="2.8" fill="#c0283a"/>
<rect x="1168.5" y="778.6" width="1" height="2.8" fill="#00838f"/>
<rect x="1169.5" y="778.9" width="3" height="2.8" fill="#c0283a"/>
<rect x="1172.5" y="778.4" width="1" height="2.8" fill="#00838f"/>
<rect x="1173.5" y="778.6" width="1" height="2.8" fill="#00838f"/>
<rect x="1176.5" y="777.9" width="3" height="2.8" fill="#c0283a"/>
<rect x="1179.5" y="777.9" width="1" height="2.8" fill="#00838f"/>
<rect x="1180.5" y="777.4" width="2" height="2.8" fill="#00838f"/>
<rect x="1182.5" y="777.1" width="2" height="2.8" fill="#00838f"/>
<rect x="1184.5" y="776.7" width="2" height="2.8" fill="#c0283a"/>
<rect x="1186.5" y="776.1" width="2" height="2.8" fill="#00838f"/>
<rect x="1188.5" y="776.5" width="1" height="2.8" fill="#c0283a"/>
<rect x="1189.5" y="775.8" width="3" height="2.8" fill="#00838f"/>
<rect x="1192.5" y="775.7" width="2" height="2.8" fill="#c0283a"/>
<rect x="1194.5" y="775.0" width="3" height="2.8" fill="#c0283a"/>
<rect x="1199.5" y="774.4" width="2" height="2.8" fill="#00838f"/>
<rect x="1201.5" y="774.1" width="2" height="2.8" fill="#c0283a"/>
<rect x="1203.5" y="774.7" width="1" height="2.8" fill="#00838f"/>
<rect x="1204.5" y="774.1" width="2" height="2.8" fill="#00838f"/>
<rect x="1206.5" y="774.1" width="3" height="2.8" fill="#c0283a"/>
<rect x="1209.5" y="774.4" width="1" height="2.8" fill="#00838f"/>
<rect x="1213.0" y="774.7" width="3" height="2.8" fill="#c0283a"/>
<rect x="1216.0" y="774.4" width="1" height="2.8" fill="#00838f"/>
<rect x="1217.0" y="774.4" width="1" height="2.8" fill="#c0283a"/>
<rect x="1218.0" y="774.1" width="2" height="2.8" fill="#00838f"/>
<rect x="1220.0" y="774.7" width="1" height="2.8" fill="#c0283a"/>
<rect x="1221.0" y="774.4" width="1" height="2.8" fill="#00838f"/>
<rect x="1222.0" y="774.4" width="1" height="2.8" fill="#00838f"/>
<rect x="1223.0" y="774.1" width="3" height="2.8" fill="#c0283a"/>
<rect x="1228.0" y="774.1" width="2" height="2.8" fill="#00838f"/>
<rect x="1230.0" y="774.4" width="2" height="2.8" fill="#c0283a"/>
<rect x="1232.0" y="774.4" width="2" height="2.8" fill="#00838f"/>
<rect x="1234.0" y="774.4" width="1" height="2.8" fill="#c0283a"/>
<rect x="1235.0" y="774.4" width="1" height="2.8" fill="#00838f"/>
<rect x="1236.0" y="774.4" width="1" height="2.8" fill="#00838f"/>
<rect x="1237.0" y="774.1" width="1" height="2.8" fill="#00838f"/>
<rect x="1238.0" y="774.1" width="2" height="2.8" fill="#00838f"/>
<rect x="1240.0" y="774.4" width="2" height="2.8" fill="#00838f"/>
<rect x="1242.0" y="774.4" width="1" height="2.8" fill="#c0283a"/>
<rect x="1243.0" y="774.1" width="1" height="2.8" fill="#00838f"/>
<rect x="1245.5" y="774.4" width="2" height="2.8" fill="#c0283a"/>
<rect x="1247.5" y="774.4" width="2" height="2.8" fill="#c0283a"/>
<rect x="1249.5" y="774.4" width="2" height="2.8" fill="#00838f"/>
<rect x="1251.5" y="774.4" width="1" height="2.8" fill="#c0283a"/>
<rect x="1252.5" y="774.5" width="2" height="2.8" fill="#c0283a"/>
<rect x="1254.5" y="775.2" width="2" height="2.8" fill="#00838f"/>
<rect x="1256.5" y="775.0" width="2" height="2.8" fill="#c0283a"/>
<rect x="1258.5" y="775.6" width="1" height="2.8" fill="#00838f"/>
<rect x="1259.5" y="775.8" width="1" height="2.8" fill="#c0283a"/>
<rect x="1260.5" y="776.1" width="2" height="2.8" fill="#00838f"/>
<rect x="1262.5" y="776.1" width="1" height="2.8" fill="#00838f"/>
<rect x="1263.5" y="776.2" width="2" height="2.8" fill="#c0283a"/>
<rect x="1265.5" y="776.1" width="1" height="2.8" fill="#c0283a"/>
<rect x="1266.5" y="775.7" width="1" height="2.8" fill="#c0283a"/>
<rect x="1269.5" y="775.9" width="2" height="2.8" fill="#00838f"/>
<rect x="1271.5" y="775.5" width="1" height="2.8" fill="#00838f"/>
<rect x="1272.5" y="775.1" width="1" height="2.8" fill="#c0283a"/>
<rect x="1273.5" y="775.2" width="2" height="2.8" fill="#00838f"/>
<rect x="1275.5" y="775.1" width="1" height="2.8" fill="#00838f"/>
<rect x="1276.5" y="774.7" width="1" height="2.8" fill="#c0283a"/>
<rect x="1277.5" y="775.2" width="1" height="2.8" fill="#c0283a"/>
<rect x="1278.5" y="774.8" width="2" height="2.8" fill="#00838f"/>
<rect x="1280.5" y="774.5" width="3" height="2.8" fill="#c0283a"/>
<rect x="1283.5" y="774.1" width="3" height="2.8" fill="#00838f"/>
<rect x="1286.5" y="774.6" width="1" height="2.8" fill="#c0283a"/>
<rect x="1287.5" y="774.3" width="1" height="2.8" fill="#00838f"/>
<rect x="1290.5" y="774.5" width="2" height="2.8" fill="#c0283a"/>
<rect x="1292.5" y="774.2" width="2" height="2.8" fill="#00838f"/>
<rect x="1294.5" y="774.2" width="1" height="2.8" fill="#c0283a"/>
<rect x="1295.5" y="774.1" width="1" height="2.8" fill="#00838f"/>
<rect x="1296.5" y="773.8" width="3" height="2.8" fill="#c0283a"/>
<rect x="1299.5" y="774.3" width="2" height="2.8" fill="#00838f"/>
<rect x="1301.5" y="774.0" width="3" height="2.8" fill="#c0283a"/>
<rect x="1304.5" y="774.0" width="1" height="2.8" fill="#c0283a"/>
<rect x="1308.0" y="773.6" width="3" height="2.8" fill="#00838f"/>
<rect x="1311.0" y="774.1" width="2" height="2.8" fill="#00838f"/>
<rect x="1313.0" y="773.8" width="2" height="2.8" fill="#c0283a"/>
<rect x="1315.0" y="773.5" width="1" height="2.8" fill="#00838f"/>
<rect x="1316.0" y="773.7" width="1" height="2.8" fill="#c0283a"/>
<rect x="1317.0" y="773.4" width="1" height="2.8" fill="#00838f"/>
<rect x="1318.0" y="773.7" width="1" height="2.8" fill="#c0283a"/>
<rect x="1319.0" y="774.0" width="2" height="2.8" fill="#00838f"/>
<rect x="1321.0" y="773.9" width="3" height="2.8" fill="#c0283a"/>
<rect x="1324.0" y="773.3" width="1" height="2.8" fill="#00838f"/>
<rect x="1327.5" y="773.8" width="1" height="2.8" fill="#c0283a"/>
<rect x="1328.5" y="773.5" width="2" height="2.8" fill="#00838f"/>
<rect x="1330.5" y="773.7" width="1" height="2.8" fill="#c0283a"/>
<rect x="1331.5" y="773.4" width="1" height="2.8" fill="#00838f"/>
<rect x="1332.5" y="773.7" width="1" height="2.8" fill="#c0283a"/>
<rect x="1333.5" y="773.2" width="2" height="2.8" fill="#00838f"/>
<rect x="1335.5" y="773.2" width="2" height="2.8" fill="#c0283a"/>
<rect x="1337.5" y="773.3" width="2" height="2.8" fill="#c0283a"/>
<rect x="1339.5" y="773.7" width="2" height="2.8" fill="#00838f"/>
<rect x="1343.5" y="773.8" width="2" height="2.8" fill="#00838f"/>
<rect x="1345.5" y="773.6" width="2" height="2.8" fill="#00838f"/>
<rect x="1347.5" y="773.9" width="2" height="2.8" fill="#c0283a"/>
<rect x="1349.5" y="773.7" width="1" height="2.8" fill="#c0283a"/>
<rect x="1350.5" y="774.0" width="2" height="2.8" fill="#00838f"/>
<rect x="1352.5" y="774.1" width="1" height="2.8" fill="#c0283a"/>
<rect x="1353.5" y="774.1" width="3" height="2.8" fill="#00838f"/>
<rect x="1356.5" y="774.5" width="1" height="2.8" fill="#c0283a"/>
<rect x="1357.5" y="774.0" width="2" height="2.8" fill="#00838f"/>
<rect x="1359.5" y="774.3" width="1" height="2.8" fill="#00838f"/>
<rect x="1360.5" y="774.1" width="3" height="2.8" fill="#c0283a"/>
<rect x="1363.5" y="774.2" width="3" height="2.8" fill="#00838f"/>
<rect x="1369.0" y="774.4" width="2" height="2.8" fill="#c0283a"/>
<rect x="1371.0" y="774.7" width="2" height="2.8" fill="#00838f"/>
<rect x="1373.0" y="774.8" width="1" height="2.8" fill="#c0283a"/>
<rect x="1374.0" y="774.8" width="1" height="2.8" fill="#00838f"/>
<rect x="1375.0" y="774.9" width="2" height="2.8" fill="#c0283a"/>
<rect x="1377.0" y="774.9" width="2" height="2.8" fill="#c0283a"/>
<rect x="1379.0" y="774.7" width="2" height="2.8" fill="#00838f"/>
<rect x="1383.5" y="774.9" width="2" height="2.8" fill="#00838f"/>
<rect x="1385.5" y="774.7" width="2" height="2.8" fill="#c0283a"/>
<rect x="1387.5" y="774.4" width="2" height="2.8" fill="#c0283a"/>
<rect x="1389.5" y="774.1" width="3" height="2.8" fill="#00838f"/>
<rect x="1392.5" y="773.9" width="1" height="2.8" fill="#c0283a"/>
<rect x="1393.5" y="774.1" width="1" height="2.8" fill="#00838f"/>
<rect x="1394.5" y="773.5" width="3" height="2.8" fill="#c0283a"/>
<rect x="1397.5" y="773.3" width="1" height="2.8" fill="#c0283a"/>
<rect x="1398.5" y="773.4" width="2" height="2.8" fill="#00838f"/>
<rect x="1400.5" y="772.9" width="2" height="2.8" fill="#c0283a"/>
<rect x="1404.5" y="772.1" width="1" height="2.8" fill="#00838f"/>
<rect x="1405.5" y="772.5" width="3" height="2.8" fill="#00838f"/>
<rect x="1408.5" y="772.2" width="1" height="2.8" fill="#c0283a"/>
<rect x="1409.5" y="771.5" width="2" height="2.8" fill="#00838f"/>
<rect x="1411.5" y="771.5" width="3" height="2.8" fill="#c0283a"/>
<rect x="1414.5" y="771.2" width="2" height="2.8" fill="#00838f"/>
<rect x="1418.0" y="771.0" width="1" height="2.8" fill="#c0283a"/>
<rect x="1419.0" y="771.3" width="3" height="2.8" fill="#00838f"/>
<rect x="1422.0" y="770.9" width="2" height="2.8" fill="#00838f"/>
<rect x="1424.0" y="770.5" width="2" height="2.8" fill="#00838f"/>
<rect x="1426.0" y="770.5" width="2" height="2.8" fill="#00838f"/>
<rect x="1428.0" y="770.7" width="2" height="2.8" fill="#c0283a"/>
<rect x="1430.0" y="770.7" width="2" height="2.8" fill="#c0283a"/>
<rect x="1432.0" y="770.9" width="3" height="2.8" fill="#00838f"/>
<rect x="1435.0" y="770.5" width="2" height="2.8" fill="#c0283a"/>
<rect x="1437.0" y="770.7" width="2" height="2.8" fill="#00838f"/>
<rect x="1441.5" y="770.2" width="3" height="2.8" fill="#c0283a"/>
<rect x="1444.5" y="770.4" width="1" height="2.8" fill="#00838f"/>
<rect x="1445.5" y="770.1" width="2" height="2.8" fill="#c0283a"/>
<rect x="1447.5" y="770.0" width="3" height="2.8" fill="#00838f"/>
<rect x="1450.5" y="769.9" width="2" height="2.8" fill="#c0283a"/>
<rect x="1452.5" y="769.8" width="1" height="2.8" fill="#c0283a"/>
<rect x="1453.5" y="769.8" width="2" height="2.8" fill="#c0283a"/>
<rect x="1455.5" y="770.0" width="2" height="2.8" fill="#00838f"/>
<rect x="1457.5" y="769.7" width="1" height="2.8" fill="#c0283a"/>
<rect x="1458.5" y="769.6" width="3" height="2.8" fill="#c0283a"/>
<rect x="1464.0" y="770.4" width="3" height="2.8" fill="#00838f"/>
<rect x="1467.0" y="770.6" width="3" height="2.8" fill="#00838f"/>
<rect x="1470.0" y="770.2" width="2" height="2.8" fill="#c0283a"/>
<rect x="1472.0" y="771.0" width="3" height="2.8" fill="#00838f"/>
<rect x="1475.0" y="770.8" width="1" height="2.8" fill="#c0283a"/>
<rect x="1476.0" y="771.2" width="1" height="2.8" fill="#00838f"/>
<rect x="1477.0" y="771.0" width="3" height="2.8" fill="#00838f"/>
<rect x="1481.5" y="770.9" width="2" height="2.8" fill="#c0283a"/>
<rect x="1483.5" y="770.4" width="3" height="2.8" fill="#00838f"/>
<rect x="1486.5" y="770.5" width="1" height="2.8" fill="#c0283a"/>
<rect x="1487.5" y="770.4" width="1" height="2.8" fill="#c0283a"/>
<rect x="1488.5" y="770.4" width="1" height="2.8" fill="#00838f"/>
<rect x="1489.5" y="770.6" width="2" height="2.8" fill="#00838f"/>
<rect x="1491.5" y="770.1" width="1" height="2.8" fill="#c0283a"/>
<rect x="1492.5" y="770.3" width="3" height="2.8" fill="#c0283a"/>
<rect x="1495.5" y="769.5" width="1" height="2.8" fill="#00838f"/>
<rect x="1496.5" y="769.4" width="2" height="2.8" fill="#c0283a"/>
<rect x="1426" y="759.5" width="2" height="40.5" fill="#999"/><rect x="1424.4" y="767.8" width="5.2" height="24.2" rx="2.6" fill="#999"/>
<rect x="1486" y="759.5" width="2" height="40.5" fill="#999"/><rect x="1484.4" y="767.8" width="5.2" height="24.2" rx="2.6" fill="#999"/>
<rect x="0.7" y="761.6" width="14.6" height="14.6" fill="#fff"/>
<path d="M4.3,765.2 L11.7,772.6 M11.7,765.2 L4.3,772.6" stroke="#8c8c8c" stroke-width="2.2"/>
<text x="60.4" y="816.3" font-size="12.5" fill="#555" text-anchor="middle">2017</text>
<text x="253.5" y="816.3" font-size="12.5" fill="#555" text-anchor="middle">2018</text>
<text x="447.5" y="816.3" font-size="12.5" fill="#555" text-anchor="middle">2019</text>
<text x="641.5" y="816.3" font-size="12.5" fill="#555" text-anchor="middle">2020</text>
<text x="835" y="816.3" font-size="12.5" fill="#555" text-anchor="middle">2021</text>
<text x="1030.3" y="816.3" font-size="12.5" fill="#555" text-anchor="middle">2022</text>
<text x="1223.4" y="816.3" font-size="12.5" fill="#555" text-anchor="middle">2023</text>
<text x="1416" y="816.3" font-size="12.5" fill="#555" text-anchor="middle">2024</text>
<text x="-1" y="816.3" font-size="12.5" fill="#555">16</text>
<path d="M1498,818 L1489,827 M1498,821.5 L1492.5,827 M1498,825 L1496,827" stroke="#666" stroke-width="1"/>
</svg>
<div class="hdr">
 <div class="logo"><svg width="22" height="22" viewBox="0 0 22 22"><path d="M2,3H20M2,6.400H20M2,10H20M2,14H20M2,18H20" stroke="#e9e9e9" stroke-width="1"/><path d="M2.500,17.700 L7.700,7.900 L12.400,12.800 L18.700,4.800" fill="none" stroke="#10808d" stroke-width="1.900"/></svg></div>
 <div class="title">WALL STREET, DAILY</div>
 <svg style="position:absolute;left:190px;top:10px" width="17" height="17" viewBox="0 0 17 17"><circle cx="6.700" cy="6.600" r="4.300" fill="none" stroke="#fff" stroke-width="1.500"/><path d="M9.800,9.800 L15,15" stroke="#fff" stroke-width="2"/></svg>
 <svg style="position:absolute;left:1426px;top:9px" width="66" height="20" viewBox="0 0 66 20"><path d="M2.600,15.900H14.400" stroke="#fff" stroke-width="1.600"/><path d="M25.300,6.800H34.500V16.200H25.300Z" fill="none" stroke="#fff" stroke-width="1.700"/><path d="M29,11.500H37.500M35,8.800L37.800,11.500L35,14.200" fill="none" stroke="#fff" stroke-width="1.600"/><path d="M36.400,2.500V8M33.700,5.200H39.200" stroke="#fff" stroke-width="1.600"/><path d="M48.300,2.700L61.500,16.700M61.500,2.700L48.300,16.700" stroke="#fff" stroke-width="1.500"/></svg>
</div>
<div class="tb">
 <div class="mi" style="left:11px">Daily</div><div class="ar" style="left:48px"></div>
 <div class="mi" style="left:78px">Technical</div><div class="ar" style="left:142.800px"></div>
 <div class="mi" style="left:172px">Display</div><div class="ar" style="left:224px"></div>
 <div class="mi" style="left:253px">More</div><div class="ar" style="left:291px"></div>
 <svg style="position:absolute;left:320px;top:11px" width="19" height="16" viewBox="0 0 19 16"><path d="M13.400,6V4.900Q13.400,4.300 12.800,4.300H9.500L7.800,2.500H3Q2.100,2.500 2.100,3.400V13.100Q2.100,14 3,14" fill="none" stroke="#444" stroke-width="0.950"/><path d="M6.500,7.200H17.200L13.600,14H3.700Z" fill="#2e2e2e"/></svg>
 <svg style="position:absolute;left:355px;top:11px" width="17" height="17" viewBox="0 0 17 17"><path d="M2.400,1.200H12.500L15.700,4.400V14.200Q15.700,15.700 14.200,15.700H2.400Q0.900,15.700 0.900,14.200V2.700Q0.900,1.200 2.400,1.200Z" fill="#2b2b2b"/><rect x="3.600" y="1.200" width="7.800" height="4.800" fill="#fff"/><rect x="8.600" y="2" width="1.800" height="3.200" fill="#2b2b2b"/><rect x="3" y="8.800" width="10.600" height="5.400" fill="#fff"/></svg>
 <div style="position:absolute;left:389px;top:18px;width:13px;height:3.600px;background:#111"></div>
 <div style="position:absolute;left:421px;top:17.700px;width:13px;height:3.600px;background:#111"></div>
 <div style="position:absolute;left:425.700px;top:13px;width:3.600px;height:13px;background:#111"></div>
 <div class="cp">CURRENT PRICE:</div>
 <div class="btn" style="left:1315px;background:#c22b3c"><span style="position:absolute;left:14.500px;top:0">39527.<small>0</small></span>
  <svg style="position:absolute;left:6px;top:0.500px" width="9" height="10" viewBox="0 0 9 10"><path d="M2.700,0H6.300V5H8.800L4.500,9.800L0.200,5H2.700Z" fill="#8f1a2a"/></svg></div>
 <div class="btn" style="left:1410px;background:#178a9b"><span style="position:absolute;left:14.500px;top:0">39531.<small>0</small></span>
  <svg style="position:absolute;left:69.500px;top:0.500px" width="9" height="10" viewBox="0 0 9 10"><path d="M2.700,9.800H6.300V4.800H8.800L4.500,0L0.200,4.800H2.700Z" fill="#0c6270"/></svg></div>
</div>
<div class="lg" style="left:9px"><b>CANDLE PTNS</b> 12</div>
<div style="position:absolute;left:98.800px;top:555.900px;width:13.400px;height:13.400px"><svg class="ic" width="13.4" height="13.4" viewBox="0 0 24 24"><path fill="#999" d="M19.4 13c.04-.33.1-.66.1-1s-.06-.67-.1-1l2.100-1.650c.2-.15.250-.42.130-.640l-2-3.460c-.120-.220-.390-.300-.610-.220l-2.490 1c-.52-.4-1.080-.73-1.690-.98l-.380-2.650C14.420 2.180 14.210 2 13.960 2h-4c-.25 0-.46.180-.490.420l-.380 2.650c-.610.250-1.170.590-1.690.980l-2.490-1c-.230-.09-.490 0-.610.220l-2 3.460c-.130.220-.070.490.120.640L4.530 11c-.04.330-.07.660-.07 1s.03.670.07 1l-2.110 1.650c-.19.150-.240.420-.120.640l2 3.460c.12.220.39.300.61.220l2.490-1c.52.4 1.080.73 1.690.98l.38 2.650c.03.240.24.420.49.420h4c.25 0 .46-.18.490-.42l.38-2.650c.61-.25 1.170-.59 1.690-.98l2.490 1c.23.09.49 0 .61-.22l2-3.460c.12-.22.070-.49-.12-.64L19.400 13zM11.960 15.800c-2.100 0-3.800-1.700-3.800-3.800s1.700-3.800 3.800-3.800 3.800 1.700 3.800 3.800-1.700 3.800-3.800 3.800z"/></svg></div><div style="position:absolute;left:118.200px;top:557.700px;width:10px;height:10px"><svg class="ic" width="10" height="10" viewBox="0 0 10 10"><path d="M1.1,1.1 L8.9,8.900 M8.9,1.1 L1.1,8.900" stroke="#999" stroke-width="2.700" fill="none"/></svg></div>
<div class="lg" style="left:141px"><b>PRO TRENDS</b> 150 3 10 2 14 2 3 8</div>
<div style="position:absolute;left:303.800px;top:555.900px;width:13.400px;height:13.400px"><svg class="ic" width="13.4" height="13.4" viewBox="0 0 24 24"><path fill="#999" d="M19.4 13c.04-.33.1-.66.1-1s-.06-.67-.1-1l2.100-1.650c.2-.15.250-.42.130-.640l-2-3.460c-.120-.220-.390-.300-.610-.220l-2.490 1c-.52-.4-1.080-.73-1.690-.98l-.380-2.650C14.420 2.180 14.210 2 13.960 2h-4c-.25 0-.46.180-.490.420l-.380 2.650c-.610.250-1.170.590-1.690.980l-2.490-1c-.230-.09-.490 0-.610.220l-2 3.460c-.130.220-.070.490.120.640L4.530 11c-.04.330-.07.660-.07 1s.03.670.07 1l-2.110 1.650c-.19.150-.240.420-.120.640l2 3.460c.12.220.39.300.61.220l2.490-1c.52.4 1.080.73 1.690.98l.38 2.650c.03.240.24.420.49.420h4c.25 0 .46-.18.490-.42l.38-2.650c.61-.25 1.170-.59 1.690-.98l2.490 1c.23.09.49 0 .61-.22l2-3.460c.12-.22.070-.49-.12-.64L19.400 13zM11.960 15.800c-2.100 0-3.800-1.700-3.800-3.800s1.700-3.800 3.800-3.800 3.800 1.700 3.800 3.800-1.700 3.800-3.800 3.800z"/></svg></div><div style="position:absolute;left:323px;top:557.700px;width:10px;height:10px"><svg class="ic" width="10" height="10" viewBox="0 0 10 10"><path d="M1.1,1.1 L8.9,8.900 M8.9,1.1 L1.1,8.900" stroke="#999" stroke-width="2.700" fill="none"/></svg></div>
<div class="lg" style="left:346px"><b>VWAP</b> 20 1 2 3</div>
<div style="position:absolute;left:420.800px;top:555.900px;width:13.400px;height:13.400px"><svg class="ic" width="13.4" height="13.4" viewBox="0 0 24 24"><path fill="#999" d="M19.4 13c.04-.33.1-.66.1-1s-.06-.67-.1-1l2.100-1.650c.2-.15.250-.42.130-.640l-2-3.460c-.120-.220-.390-.300-.610-.220l-2.490 1c-.52-.4-1.080-.73-1.690-.98l-.380-2.650C14.420 2.180 14.210 2 13.960 2h-4c-.25 0-.46.180-.490.420l-.380 2.650c-.610.250-1.170.590-1.690.980l-2.490-1c-.230-.09-.490 0-.610.220l-2 3.460c-.130.220-.070.490.120.640L4.530 11c-.04.330-.07.660-.07 1s.03.670.07 1l-2.110 1.650c-.19.150-.240.420-.120.640l2 3.460c.12.220.39.300.61.220l2.490-1c.52.4 1.080.73 1.690.98l.38 2.650c.03.240.24.420.49.420h4c.25 0 .46-.18.490-.42l.38-2.650c.61-.25 1.170-.59 1.690-.98l2.490 1c.23.09.49 0 .61-.22l2-3.460c.12-.22.070-.49-.12-.64L19.400 13zM11.960 15.800c-2.100 0-3.800-1.700-3.800-3.800s1.700-3.800 3.800-3.800 3.800 1.700 3.800 3.800-1.700 3.800-3.800 3.800z"/></svg></div><div style="position:absolute;left:440px;top:557.700px;width:10px;height:10px"><svg class="ic" width="10" height="10" viewBox="0 0 10 10"><path d="M1.1,1.1 L8.9,8.900 M8.9,1.1 L1.1,8.900" stroke="#999" stroke-width="2.700" fill="none"/></svg></div>
<div class="lg" style="left:9px;top:638.600px"><b>RSI</b> <span style="color:#666">14</span></div>
<div style="position:absolute;left:43.800px;top:638.400px;width:13.400px;height:13.400px"><svg class="ic" width="13.4" height="13.4" viewBox="0 0 24 24"><path fill="#999" d="M19.4 13c.04-.33.1-.66.1-1s-.06-.67-.1-1l2.100-1.650c.2-.15.250-.42.130-.640l-2-3.460c-.120-.220-.390-.300-.610-.220l-2.490 1c-.52-.4-1.080-.73-1.690-.98l-.380-2.650C14.420 2.180 14.210 2 13.960 2h-4c-.25 0-.46.180-.490.420l-.380 2.650c-.610.250-1.170.590-1.690.980l-2.490-1c-.230-.09-.490 0-.610.220l-2 3.460c-.130.220-.070.490.120.640L4.530 11c-.04.330-.07.660-.07 1s.03.670.07 1l-2.110 1.650c-.19.150-.240.420-.120.640l2 3.460c.12.220.39.300.61.220l2.490-1c.52.4 1.080.73 1.690.98l.38 2.650c.03.240.24.420.49.420h4c.25 0 .46-.18.490-.42l.38-2.650c.61-.25 1.170-.59 1.690-.98l2.490 1c.23.09.49 0 .61-.22l2-3.460c.12-.22.070-.49-.12-.64L19.400 13zM11.960 15.800c-2.100 0-3.800-1.700-3.800-3.800s1.700-3.800 3.800-3.800 3.800 1.700 3.800 3.800-1.700 3.800-3.800 3.800z"/></svg></div><div style="position:absolute;left:62.900px;top:640.600px;width:10px;height:10px"><svg class="ic" width="10" height="10" viewBox="0 0 10 10"><path d="M1.1,1.1 L8.9,8.900 M8.9,1.1 L1.1,8.900" stroke="#999" stroke-width="2.700" fill="none"/></svg></div>
<div class="inf g" style="left:9px;top:585.500px">TODAY:</div><div class="inf g" style="left:62px;top:585.500px">H:</div><div class="inf d" style="left:75px;top:585.500px">39536.5</div><div class="inf g" style="left:121.500px;top:585.500px">L:</div><div class="inf d" style="left:132.800px;top:585.500px">39445.5</div><div class="inf t" style="left:184px;top:585.500px">24.5</div><div class="inf t" style="left:230px;top:585.500px">0.1%</div>
<div class="inf g" style="left:9px;top:599.500px">CHART:</div><div class="inf g" style="left:62px;top:599.500px">H:</div><div class="inf d" style="left:75px;top:599.500px">39990.5</div><div class="inf g" style="left:121.500px;top:599.500px">L:</div><div class="inf d" style="left:132.800px;top:599.500px">37232.0</div><div class="inf t" style="left:184px;top:599.500px">1597.0</div><div class="inf t" style="left:230px;top:599.500px">4.2%</div>
</body></html>
